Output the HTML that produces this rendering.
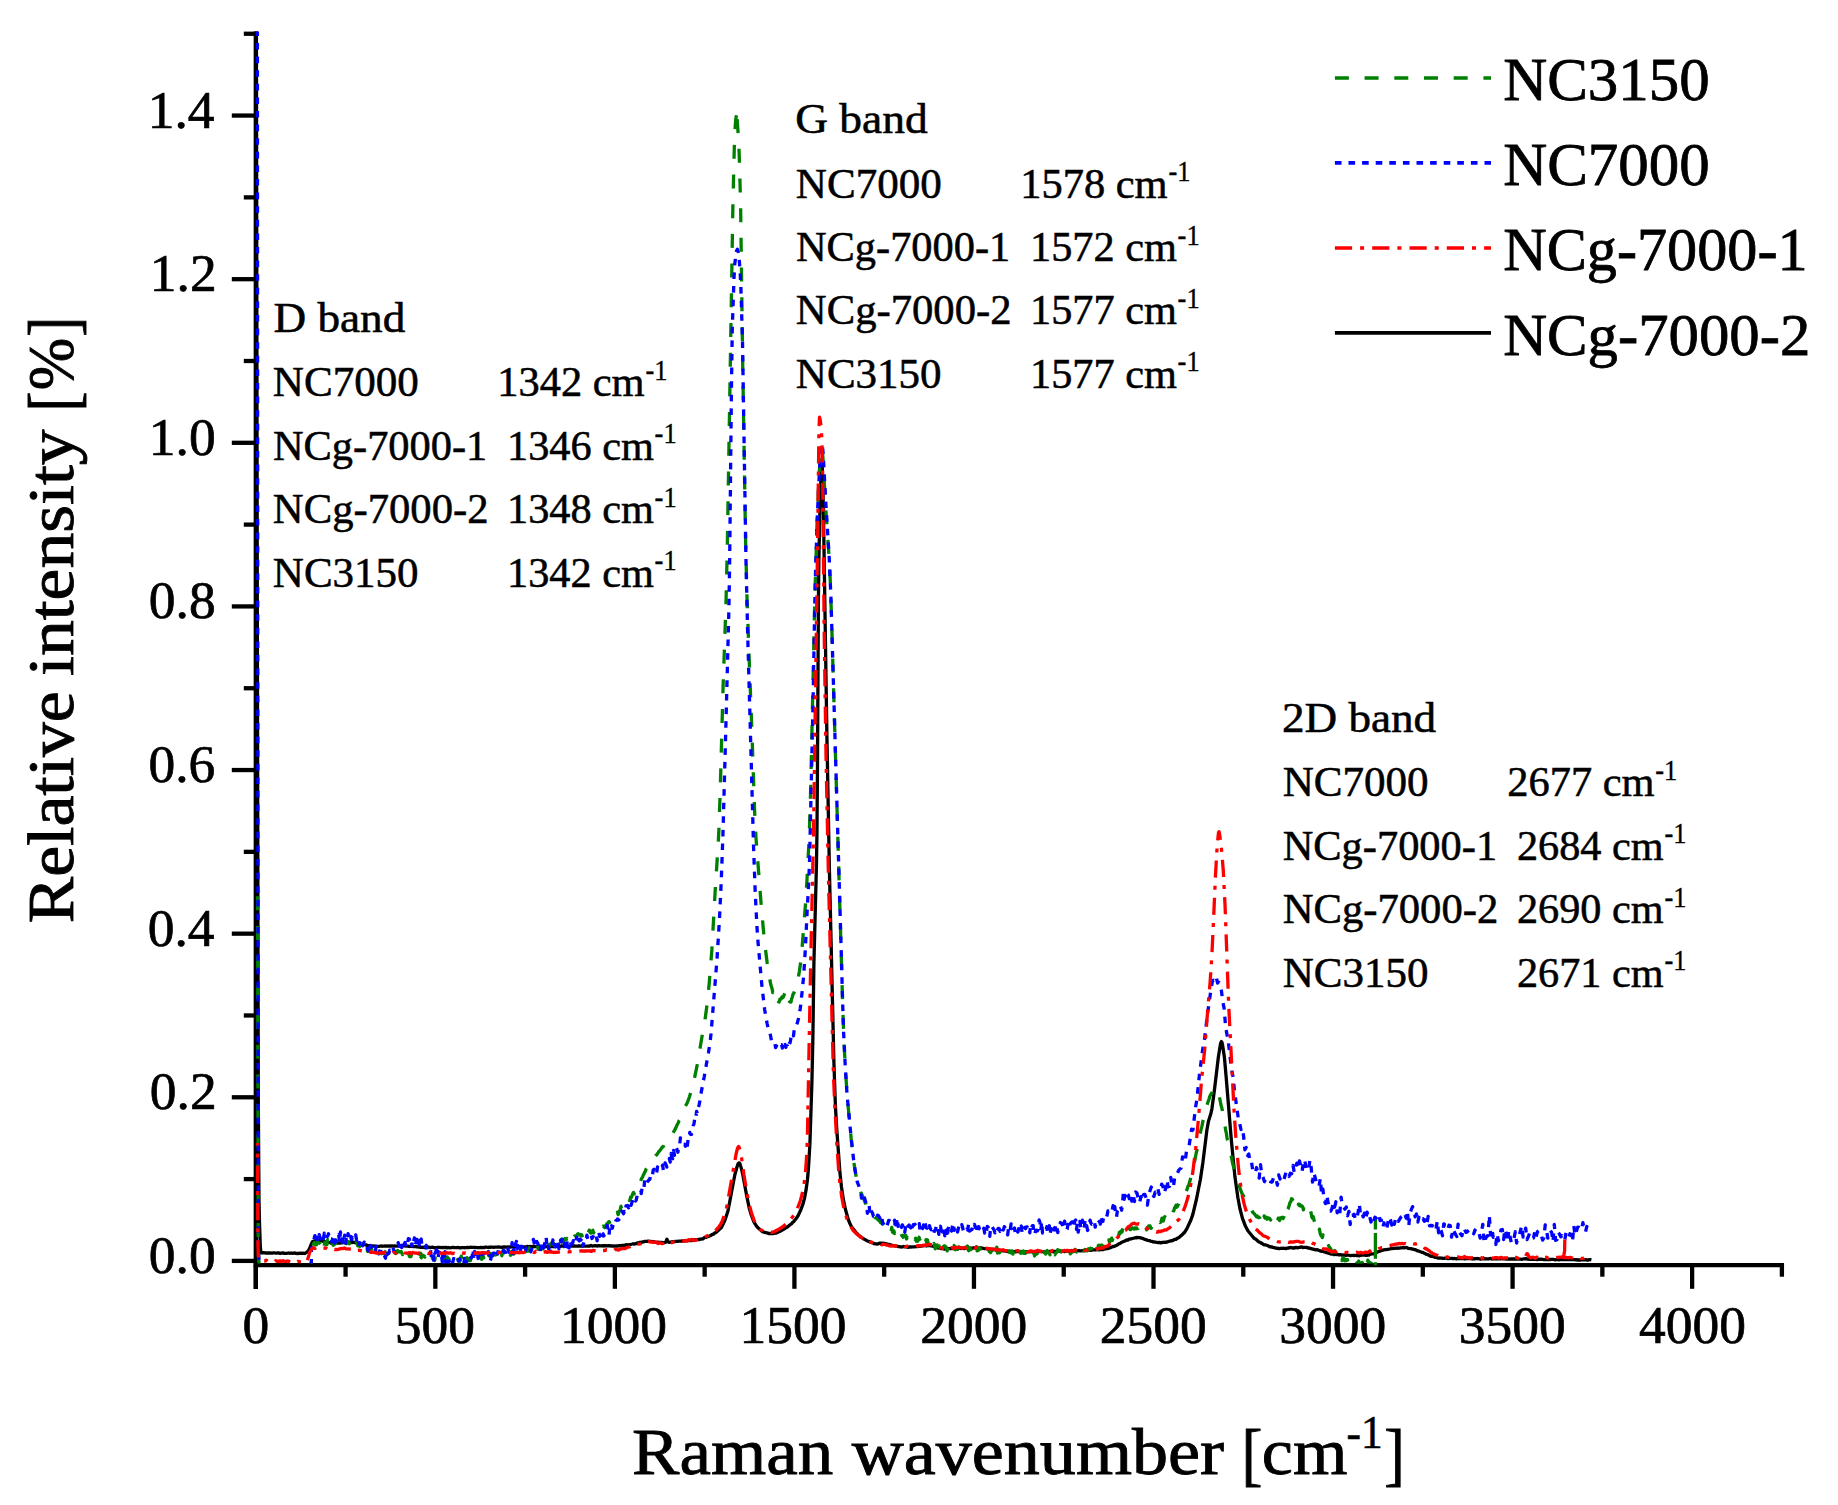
<!DOCTYPE html>
<html lang="en"><head><meta charset="utf-8"><title>Raman spectra</title>
<style>
html,body{margin:0;padding:0;background:#fff;}
body{width:1838px;height:1505px;overflow:hidden;}
svg{display:block;}
text{font-family:"Liberation Serif", serif;fill:#000;stroke:#000;}
</style></head><body>
<svg width="1838" height="1505" viewBox="0 0 1838 1505">
<rect width="1838" height="1505" fill="#fff"/>
<defs><clipPath id="plot"><rect x="250" y="31.60" width="1560" height="1231.80"/></clipPath></defs>
<g stroke="#000" stroke-width="4.30" fill="none">
<line x1="255.80" y1="31.60" x2="255.80" y2="1289.00"/>
<line x1="253.65" y1="1265.20" x2="1784.04" y2="1265.20"/>
<line x1="231.80" y1="1260.90" x2="255.80" y2="1260.90"/>
<line x1="243.80" y1="1179.09" x2="255.80" y2="1179.09"/>
<line x1="231.80" y1="1097.28" x2="255.80" y2="1097.28"/>
<line x1="243.80" y1="1015.47" x2="255.80" y2="1015.47"/>
<line x1="231.80" y1="933.66" x2="255.80" y2="933.66"/>
<line x1="243.80" y1="851.85" x2="255.80" y2="851.85"/>
<line x1="231.80" y1="770.04" x2="255.80" y2="770.04"/>
<line x1="243.80" y1="688.23" x2="255.80" y2="688.23"/>
<line x1="231.80" y1="606.42" x2="255.80" y2="606.42"/>
<line x1="243.80" y1="524.61" x2="255.80" y2="524.61"/>
<line x1="231.80" y1="442.80" x2="255.80" y2="442.80"/>
<line x1="243.80" y1="360.99" x2="255.80" y2="360.99"/>
<line x1="231.80" y1="279.18" x2="255.80" y2="279.18"/>
<line x1="243.80" y1="197.37" x2="255.80" y2="197.37"/>
<line x1="231.80" y1="115.56" x2="255.80" y2="115.56"/>
<line x1="243.80" y1="33.75" x2="255.80" y2="33.75"/>
<line x1="255.80" y1="1265.20" x2="255.80" y2="1288.80"/>
<line x1="345.57" y1="1265.20" x2="345.57" y2="1276.70"/>
<line x1="435.34" y1="1265.20" x2="435.34" y2="1288.80"/>
<line x1="525.11" y1="1265.20" x2="525.11" y2="1276.70"/>
<line x1="614.88" y1="1265.20" x2="614.88" y2="1288.80"/>
<line x1="704.65" y1="1265.20" x2="704.65" y2="1276.70"/>
<line x1="794.42" y1="1265.20" x2="794.42" y2="1288.80"/>
<line x1="884.19" y1="1265.20" x2="884.19" y2="1276.70"/>
<line x1="973.96" y1="1265.20" x2="973.96" y2="1288.80"/>
<line x1="1063.73" y1="1265.20" x2="1063.73" y2="1276.70"/>
<line x1="1153.50" y1="1265.20" x2="1153.50" y2="1288.80"/>
<line x1="1243.27" y1="1265.20" x2="1243.27" y2="1276.70"/>
<line x1="1333.04" y1="1265.20" x2="1333.04" y2="1288.80"/>
<line x1="1422.81" y1="1265.20" x2="1422.81" y2="1276.70"/>
<line x1="1512.58" y1="1265.20" x2="1512.58" y2="1288.80"/>
<line x1="1602.35" y1="1265.20" x2="1602.35" y2="1276.70"/>
<line x1="1692.12" y1="1265.20" x2="1692.12" y2="1288.80"/>
<line x1="1781.89" y1="1265.20" x2="1781.89" y2="1276.70"/>
</g>
<g fill="none" stroke-width="3.3" stroke-linejoin="round" clip-path="url(#plot)">
<path d="M256.4,20.0L257.3,600.0L258.3,1100.0L259.0,1200.0L259.5,1223.0L260.3,1246.0L260.9,1252.9L263.9,1252.7L265.4,1253.0L267.4,1253.0L267.9,1252.8L269.4,1253.1L269.9,1252.9L272.4,1253.2L273.9,1252.7L274.4,1252.9L275.9,1253.1L276.4,1253.0L276.9,1253.1L277.4,1252.8L277.9,1252.9L278.4,1252.8L279.4,1253.3L280.4,1253.3L280.9,1253.2L281.4,1253.2L282.9,1252.8L283.4,1252.9L284.4,1253.4L286.4,1253.4L288.4,1253.0L289.4,1253.1L289.9,1253.3L291.4,1253.0L292.4,1253.3L293.9,1253.0L294.9,1253.0L295.4,1253.3L297.9,1253.5L300.4,1253.2L301.4,1253.5L302.9,1253.1L304.9,1253.5L306.4,1252.5L308.4,1250.7L309.4,1248.9L311.4,1243.8L312.4,1241.9L312.9,1241.3L313.4,1241.3L313.9,1241.1L314.4,1241.1L315.9,1240.4L316.9,1240.5L318.4,1240.2L319.4,1240.3L320.9,1240.7L321.9,1240.9L324.9,1241.9L326.4,1242.0L327.4,1242.3L330.4,1242.7L330.9,1243.0L332.9,1242.7L334.4,1242.9L335.9,1242.7L336.9,1242.8L337.9,1243.2L338.9,1242.9L339.4,1242.9L339.9,1243.1L340.9,1242.8L343.9,1242.7L345.4,1242.3L346.9,1242.6L348.4,1242.5L348.9,1242.6L350.4,1242.3L352.4,1242.5L353.4,1242.1L354.4,1242.4L354.9,1242.7L357.4,1243.0L358.4,1243.3L358.9,1243.6L359.4,1243.6L359.9,1243.9L360.4,1243.8L362.4,1244.0L363.9,1244.7L365.9,1244.9L367.4,1245.4L369.4,1245.6L370.9,1246.1L371.9,1246.1L372.4,1245.9L375.4,1246.2L378.9,1246.4L380.9,1246.0L381.9,1246.1L382.4,1246.3L382.9,1246.1L383.4,1246.2L383.9,1246.1L384.4,1246.2L384.9,1245.9L387.9,1246.2L389.4,1245.9L390.9,1246.2L391.9,1245.9L392.9,1246.1L394.4,1245.9L396.4,1246.1L398.9,1245.9L399.4,1245.6L400.9,1245.7L401.4,1245.5L401.9,1245.5L403.4,1246.0L404.4,1245.8L406.4,1246.2L407.9,1246.1L408.9,1246.4L409.4,1246.5L409.9,1246.3L411.9,1246.3L413.4,1246.6L414.9,1246.6L415.9,1246.5L416.9,1246.9L417.9,1246.8L418.9,1247.2L419.4,1247.2L419.9,1247.0L420.9,1247.3L421.9,1247.1L424.9,1247.5L427.9,1247.2L428.4,1247.3L428.9,1247.2L429.9,1247.3L430.4,1247.6L432.4,1247.2L434.4,1247.8L434.9,1247.7L436.4,1248.0L436.9,1247.5L437.4,1247.4L439.4,1247.4L441.4,1247.7L443.4,1247.5L444.4,1247.7L444.9,1247.5L445.9,1247.4L447.4,1247.9L448.4,1247.5L449.9,1247.8L451.4,1247.7L452.9,1247.2L454.4,1247.7L456.9,1247.7L457.4,1247.4L459.9,1247.9L460.9,1247.8L461.4,1247.6L463.9,1247.6L464.4,1247.8L464.9,1247.6L466.4,1247.7L467.4,1247.4L468.4,1247.6L469.4,1247.5L470.9,1247.2L471.4,1247.4L474.4,1247.3L477.4,1247.6L479.9,1247.5L480.9,1247.4L481.4,1247.7L482.4,1247.6L482.9,1247.4L484.4,1247.6L484.9,1247.3L485.9,1247.0L486.4,1247.2L487.9,1247.3L488.4,1247.5L489.9,1247.1L490.4,1247.3L491.9,1247.0L493.4,1247.4L494.9,1247.1L496.4,1247.2L497.4,1247.0L498.9,1247.2L499.9,1247.0L501.4,1247.3L503.9,1247.0L506.9,1247.1L507.9,1246.9L508.9,1247.1L509.9,1246.9L510.9,1247.0L511.9,1246.8L513.9,1246.9L514.9,1247.1L516.9,1246.5L517.9,1246.8L518.4,1246.9L519.4,1246.6L520.4,1246.6L520.9,1246.8L522.4,1246.7L523.4,1247.1L524.9,1246.8L526.4,1246.7L527.9,1246.5L528.4,1246.8L530.4,1246.5L531.4,1246.7L532.9,1246.4L534.4,1246.7L536.4,1246.6L537.4,1246.4L538.4,1246.6L539.9,1246.3L540.4,1246.6L541.4,1246.6L541.9,1246.3L542.4,1246.6L543.4,1246.8L544.4,1246.7L546.4,1246.5L546.9,1246.6L548.4,1246.4L549.4,1246.6L550.9,1246.3L552.4,1246.7L553.9,1246.4L554.9,1246.6L556.4,1246.4L556.9,1246.4L558.4,1246.2L559.4,1246.5L560.4,1246.4L561.9,1245.8L564.4,1246.4L565.4,1246.3L565.9,1246.4L566.4,1246.3L566.9,1246.3L567.4,1246.1L571.4,1246.2L573.9,1246.1L574.4,1245.9L574.9,1246.1L577.4,1246.2L578.9,1245.8L580.9,1246.2L582.4,1245.8L583.9,1246.0L588.4,1246.1L588.9,1246.0L589.4,1246.1L589.9,1245.9L590.4,1245.8L590.9,1245.5L591.9,1246.0L592.4,1246.1L592.9,1245.8L594.4,1245.9L595.4,1245.6L596.9,1246.0L598.9,1245.7L600.4,1245.9L601.4,1245.8L602.4,1246.0L602.9,1245.6L603.9,1245.7L604.4,1246.0L605.9,1245.7L607.4,1245.9L607.9,1245.7L608.4,1245.8L608.9,1245.7L611.4,1246.0L612.9,1245.9L614.9,1246.1L616.4,1245.9L617.4,1246.2L618.4,1245.9L619.4,1245.6L619.9,1245.8L620.9,1245.6L621.4,1245.3L622.9,1245.5L624.9,1245.3L625.9,1244.7L627.4,1245.0L629.9,1244.6L630.4,1244.6L630.9,1244.3L632.4,1244.0L632.9,1243.8L633.4,1243.9L633.9,1244.2L635.9,1243.6L636.4,1243.6L637.4,1243.0L638.9,1242.8L639.4,1242.5L640.9,1242.4L642.9,1241.8L643.9,1241.8L644.9,1241.3L646.9,1241.3L647.9,1241.2L652.4,1241.7L652.9,1241.5L655.4,1242.0L656.4,1242.3L657.9,1242.2L660.9,1242.6L661.4,1242.4L662.9,1242.7L665.4,1242.4L665.9,1241.8L666.9,1239.2L667.9,1241.7L668.4,1242.2L669.4,1242.4L670.9,1242.0L671.4,1242.0L671.9,1241.8L672.9,1241.6L673.4,1241.8L674.4,1241.7L675.4,1241.3L676.9,1241.4L679.4,1241.2L680.9,1241.2L682.4,1240.9L683.4,1241.2L684.9,1240.8L687.4,1240.7L688.9,1240.4L689.4,1240.3L690.9,1240.7L692.4,1240.3L692.9,1240.4L694.4,1239.7L695.9,1239.9L698.4,1239.5L699.4,1239.6L700.4,1239.1L701.9,1239.0L702.9,1238.8L704.4,1237.7L705.9,1237.4L706.9,1237.0L708.9,1236.2L710.9,1235.4L711.4,1234.9L713.4,1234.1L714.9,1232.9L715.9,1232.6L717.9,1230.8L720.4,1228.4L721.4,1227.5L724.9,1220.2L727.9,1211.2L734.9,1174.5L736.9,1167.2L737.9,1164.3L738.4,1163.3L738.9,1162.8L739.4,1163.0L739.9,1163.6L741.4,1168.6L742.9,1175.1L746.4,1194.3L749.4,1208.8L750.9,1213.9L753.9,1222.0L755.4,1224.4L756.9,1226.7L761.4,1230.9L762.9,1231.9L767.9,1233.1L768.4,1233.5L769.9,1233.5L770.4,1233.7L771.4,1233.4L772.9,1233.5L774.9,1233.2L775.9,1233.2L777.4,1232.5L778.4,1232.2L778.9,1231.7L780.4,1231.1L781.4,1230.5L784.4,1228.8L785.4,1228.1L787.4,1227.0L790.4,1224.5L791.4,1223.8L792.9,1222.2L793.4,1221.9L794.9,1219.9L795.4,1219.6L797.9,1216.0L800.4,1210.8L802.9,1204.2L804.4,1198.6L805.9,1190.9L807.4,1180.0L808.4,1169.0L809.9,1144.0L811.9,1082.3L812.9,1036.7L813.9,963.1L816.4,867.2L816.9,837.3L817.4,780.1L818.4,600.7L818.9,559.1L819.9,510.5L821.4,464.6L821.9,461.1L822.4,470.4L823.4,509.6L826.9,735.7L829.4,869.5L833.9,1062.3L835.4,1105.8L836.9,1131.3L839.9,1172.1L841.4,1186.4L843.4,1199.7L845.4,1209.3L848.4,1219.9L849.9,1223.5L851.9,1227.4L855.9,1232.4L857.9,1234.5L860.4,1236.8L861.4,1237.3L863.4,1238.8L865.9,1240.1L866.4,1240.3L867.4,1241.0L869.4,1241.6L870.9,1242.5L872.9,1243.0L874.4,1243.6L875.4,1243.9L877.9,1244.0L878.4,1243.8L879.4,1243.2L879.9,1243.1L880.4,1243.3L882.4,1243.1L883.9,1243.4L884.4,1243.3L885.9,1243.9L886.9,1243.9L887.4,1244.2L888.9,1244.4L890.4,1244.8L891.4,1245.3L891.9,1245.4L892.4,1245.3L893.9,1245.7L897.9,1246.3L898.4,1246.6L899.9,1246.7L900.4,1246.9L901.9,1247.0L903.4,1246.5L904.4,1246.9L905.4,1246.8L905.9,1246.7L907.4,1247.0L907.9,1247.3L908.9,1247.2L909.4,1246.9L910.9,1247.0L911.9,1246.9L913.9,1246.8L916.4,1246.6L917.4,1246.6L918.4,1246.3L918.9,1246.4L919.4,1246.2L919.9,1246.3L920.4,1246.0L921.4,1246.1L922.4,1245.9L922.9,1245.6L923.4,1245.8L924.4,1245.7L924.9,1245.5L926.4,1246.0L927.4,1245.7L928.9,1245.6L929.4,1245.4L930.4,1245.6L931.4,1246.0L933.9,1246.5L934.4,1246.4L935.9,1246.9L936.9,1247.1L937.9,1247.8L939.9,1248.0L941.4,1248.6L942.4,1248.5L943.9,1249.0L944.9,1249.0L946.4,1248.7L950.4,1248.6L952.4,1248.6L952.9,1248.5L954.4,1248.8L956.4,1248.4L956.9,1248.6L957.9,1248.7L958.4,1248.3L959.4,1248.1L960.9,1248.5L961.4,1248.2L962.4,1248.1L962.9,1248.4L963.9,1248.5L964.4,1248.5L964.9,1248.2L965.4,1248.3L965.9,1248.2L966.4,1248.4L966.9,1248.1L967.9,1247.8L969.4,1248.0L970.9,1248.1L971.4,1248.0L971.9,1248.1L972.9,1248.1L973.4,1247.8L974.4,1247.7L975.9,1248.4L976.4,1248.3L977.4,1247.7L978.4,1248.3L978.9,1248.3L980.4,1247.7L981.4,1247.9L981.9,1248.2L983.4,1248.4L984.4,1248.6L987.9,1248.8L990.9,1249.7L991.9,1249.5L993.4,1249.6L993.9,1249.4L995.4,1250.0L996.9,1249.9L997.9,1250.3L998.9,1250.3L999.9,1250.6L1000.9,1250.4L1002.9,1250.7L1003.4,1250.9L1005.9,1251.2L1006.4,1251.1L1007.4,1251.4L1008.9,1251.5L1009.4,1251.8L1010.4,1251.7L1011.4,1251.5L1013.4,1251.6L1013.9,1251.5L1015.4,1251.9L1015.9,1251.7L1016.9,1251.7L1017.9,1251.5L1019.4,1251.6L1021.4,1251.5L1022.9,1251.8L1024.9,1251.9L1025.4,1251.7L1026.9,1251.8L1027.4,1251.7L1028.4,1251.7L1028.9,1251.9L1030.9,1251.5L1032.9,1251.9L1034.4,1251.7L1035.4,1251.8L1036.4,1251.6L1037.4,1251.7L1038.9,1251.4L1040.4,1251.5L1040.9,1251.7L1041.4,1251.5L1041.9,1251.7L1044.9,1251.8L1045.4,1251.6L1045.9,1251.6L1046.4,1251.5L1046.9,1251.7L1049.9,1251.6L1051.4,1251.1L1051.9,1251.3L1052.4,1251.7L1053.4,1251.8L1053.9,1251.4L1054.9,1251.5L1056.4,1251.4L1056.9,1251.5L1057.9,1251.1L1058.9,1251.1L1060.9,1251.3L1062.9,1251.2L1064.4,1251.6L1065.4,1251.2L1066.4,1251.1L1066.9,1251.2L1068.4,1250.8L1068.9,1250.9L1069.4,1251.3L1069.9,1251.4L1071.4,1250.8L1073.4,1250.8L1075.9,1251.1L1077.4,1250.8L1077.9,1250.8L1078.4,1250.7L1079.4,1250.7L1079.9,1250.9L1080.9,1250.9L1084.4,1250.3L1085.9,1250.6L1086.9,1250.6L1089.4,1249.9L1090.9,1250.3L1092.9,1249.7L1093.4,1249.9L1095.9,1249.9L1097.9,1249.5L1098.9,1249.8L1101.4,1249.3L1103.4,1249.5L1104.9,1248.8L1106.4,1248.8L1106.9,1248.6L1107.9,1248.5L1109.4,1247.9L1109.9,1247.9L1111.4,1247.3L1112.9,1246.4L1113.9,1246.5L1117.4,1244.9L1118.9,1243.7L1119.4,1243.7L1120.4,1243.3L1120.9,1242.7L1123.4,1241.6L1124.9,1240.9L1125.9,1240.5L1126.4,1240.1L1127.4,1239.8L1127.9,1240.0L1128.4,1239.5L1129.4,1239.1L1129.9,1239.2L1134.4,1238.0L1134.9,1237.8L1135.9,1237.7L1136.4,1237.8L1136.9,1237.5L1139.9,1237.6L1141.4,1238.2L1142.4,1238.3L1144.9,1239.4L1146.4,1239.8L1147.4,1240.3L1149.4,1240.6L1150.9,1241.3L1151.9,1241.5L1152.4,1241.5L1152.9,1241.9L1154.9,1242.0L1157.9,1242.7L1159.4,1242.4L1160.9,1242.9L1162.4,1242.4L1165.9,1242.2L1166.4,1242.3L1168.4,1241.4L1168.9,1241.4L1169.9,1241.2L1170.4,1240.9L1171.4,1240.7L1171.9,1240.8L1172.9,1240.5L1173.4,1240.0L1174.4,1239.5L1175.9,1239.3L1177.4,1238.2L1177.9,1238.2L1178.9,1237.6L1181.9,1234.9L1183.4,1233.5L1183.9,1232.8L1184.4,1232.6L1186.9,1228.6L1190.9,1220.0L1192.9,1214.1L1196.4,1199.5L1200.4,1179.2L1202.9,1162.4L1206.9,1130.0L1208.4,1121.6L1210.9,1113.5L1211.9,1108.8L1214.4,1090.2L1218.4,1056.8L1220.4,1044.4L1220.9,1042.5L1221.4,1041.6L1221.9,1042.2L1222.4,1043.9L1224.4,1057.2L1226.4,1080.0L1231.4,1140.9L1234.9,1176.6L1237.9,1197.8L1239.9,1208.5L1242.4,1218.1L1245.4,1226.1L1247.9,1230.8L1253.4,1237.5L1254.4,1238.5L1255.9,1239.2L1258.9,1242.0L1260.4,1242.5L1263.4,1244.4L1263.9,1244.8L1264.9,1244.9L1265.4,1244.8L1267.9,1245.7L1269.4,1246.7L1269.9,1246.8L1270.4,1246.6L1271.9,1247.1L1272.4,1247.0L1272.9,1247.4L1273.9,1247.6L1274.4,1247.6L1275.9,1248.2L1278.9,1248.5L1279.4,1248.7L1280.9,1248.2L1281.9,1248.4L1282.9,1248.4L1283.4,1248.2L1284.4,1248.3L1286.4,1248.5L1286.9,1248.2L1287.9,1248.0L1288.9,1248.1L1289.9,1247.6L1290.9,1247.5L1292.4,1248.0L1293.4,1248.0L1296.4,1247.5L1297.9,1247.8L1298.4,1247.5L1299.4,1247.3L1299.9,1247.4L1301.4,1246.8L1301.9,1246.9L1302.9,1247.5L1304.4,1247.3L1305.4,1247.4L1306.4,1247.4L1307.9,1248.0L1308.4,1247.9L1312.9,1249.1L1315.9,1249.9L1317.4,1249.7L1320.4,1251.0L1322.4,1251.3L1323.9,1251.8L1324.9,1252.0L1325.9,1252.3L1326.4,1252.6L1327.9,1252.9L1329.4,1253.6L1330.4,1253.7L1331.4,1254.1L1333.4,1254.2L1333.9,1254.5L1334.9,1254.5L1335.4,1254.3L1336.4,1254.5L1337.4,1254.4L1338.4,1254.8L1340.4,1254.7L1341.4,1255.0L1342.9,1255.1L1344.4,1254.9L1344.9,1255.2L1345.4,1255.2L1345.9,1255.4L1347.4,1255.0L1350.4,1255.6L1352.4,1255.3L1353.4,1255.5L1354.9,1255.3L1355.9,1255.4L1356.9,1255.7L1357.9,1255.6L1359.4,1255.8L1360.4,1255.3L1362.4,1255.2L1364.4,1254.9L1365.9,1255.3L1366.9,1255.3L1367.9,1255.0L1368.9,1255.1L1370.4,1254.2L1370.9,1254.1L1371.4,1253.8L1373.4,1253.9L1375.9,1252.6L1377.4,1252.2L1378.4,1251.5L1379.9,1251.1L1380.9,1250.8L1381.4,1250.4L1382.4,1250.1L1382.9,1250.3L1383.9,1249.9L1385.9,1249.5L1386.4,1249.6L1388.9,1249.2L1389.9,1249.0L1391.4,1248.5L1394.4,1248.4L1394.9,1248.4L1396.4,1248.0L1397.4,1248.3L1398.4,1248.0L1399.4,1248.2L1400.4,1247.8L1401.9,1247.9L1402.4,1247.7L1403.4,1247.5L1404.4,1247.9L1406.4,1247.5L1407.4,1247.9L1407.9,1248.3L1410.9,1248.6L1412.4,1249.1L1413.4,1249.2L1414.4,1249.6L1415.4,1249.7L1417.4,1250.8L1418.4,1250.9L1419.9,1251.6L1420.4,1251.6L1421.9,1252.4L1422.4,1252.3L1422.9,1252.4L1424.4,1253.3L1424.9,1253.4L1425.9,1254.1L1427.4,1254.5L1429.4,1255.5L1430.4,1256.1L1431.4,1256.3L1432.4,1256.5L1433.9,1256.8L1435.4,1257.4L1435.9,1257.2L1436.9,1257.5L1437.9,1258.1L1438.9,1258.1L1439.4,1258.0L1441.4,1258.2L1442.4,1258.2L1442.9,1258.4L1443.4,1258.3L1443.9,1258.4L1444.4,1258.2L1444.9,1258.2L1445.4,1258.1L1447.4,1258.3L1447.9,1258.6L1450.9,1258.3L1451.9,1258.3L1452.9,1258.6L1454.9,1258.5L1456.4,1258.8L1457.9,1258.4L1458.9,1258.5L1461.9,1258.3L1462.9,1258.6L1463.4,1258.4L1464.9,1258.8L1465.9,1258.6L1467.4,1258.6L1467.9,1258.5L1469.4,1258.6L1470.4,1258.3L1471.9,1258.9L1472.4,1259.0L1473.9,1258.6L1474.9,1258.8L1476.4,1258.5L1477.4,1258.7L1477.9,1258.5L1480.4,1259.1L1483.9,1258.7L1486.4,1258.8L1488.9,1258.9L1489.4,1258.6L1490.4,1258.5L1491.4,1258.8L1491.9,1259.0L1492.4,1259.0L1493.4,1258.7L1494.4,1258.8L1494.9,1258.7L1496.4,1258.9L1497.4,1258.6L1497.9,1258.8L1499.4,1258.7L1500.4,1258.8L1501.9,1258.5L1502.9,1258.8L1505.9,1258.8L1506.4,1259.1L1507.4,1259.1L1507.9,1258.8L1509.9,1259.2L1511.4,1258.9L1514.9,1259.0L1515.4,1259.1L1515.9,1259.0L1516.9,1258.9L1518.4,1259.2L1520.9,1259.2L1521.4,1259.3L1522.4,1259.3L1523.9,1258.8L1524.4,1258.9L1525.9,1258.7L1527.4,1259.1L1528.4,1259.2L1529.4,1259.4L1530.9,1259.1L1534.4,1259.3L1535.9,1259.4L1536.9,1259.5L1539.4,1259.1L1540.4,1259.3L1541.4,1259.1L1543.4,1259.5L1543.9,1259.7L1544.9,1259.5L1546.4,1259.5L1549.4,1259.4L1550.4,1259.5L1551.4,1259.4L1552.9,1259.4L1553.4,1259.3L1555.4,1259.8L1557.4,1259.2L1557.9,1259.5L1558.4,1259.5L1558.9,1259.8L1560.9,1259.4L1562.4,1259.5L1562.9,1259.7L1563.4,1259.5L1563.9,1259.7L1564.9,1259.5L1566.9,1259.6L1569.9,1259.6L1571.9,1259.4L1573.4,1259.7L1574.4,1259.6L1575.4,1259.8L1576.4,1259.6L1577.9,1260.1L1578.9,1259.8L1579.4,1259.8L1579.9,1260.0L1581.4,1259.8L1581.9,1259.9L1586.4,1259.7L1587.4,1260.1L1588.4,1260.0L1588.9,1259.7L1589.9,1259.6L1591.4,1259.9" stroke="#000000"/>
<path d="M736.4,115.2L735.7,120.0L735.0,129.5L734.3,147.8L732.9,204.7L727.3,548.0L725.9,606.3L723.1,686.2L720.3,787.8L718.9,830.1L718.2,844.1L715.4,886.9L711.9,949.2L709.1,984.6L707.0,1005.0L704.9,1020.6L703.5,1027.8L697.2,1064.9L694.4,1078.5L693.0,1083.8L692.3,1087.4L689.5,1096.7L687.4,1102.5L685.3,1106.4L684.6,1109.5L683.9,1110.4L683.2,1112.1L682.5,1113.1L681.1,1116.3L679.7,1119.9L679.0,1120.8L678.3,1122.8L676.9,1125.3L675.5,1128.6L672.7,1133.4L672.0,1134.1L671.3,1135.8L670.6,1136.6L669.9,1137.0L668.5,1140.0L667.8,1140.5L667.1,1142.0L664.3,1144.7L663.6,1146.1L662.9,1146.8L662.2,1147.2L660.8,1149.3L659.4,1151.2L658.7,1151.7L658.0,1153.0L656.6,1154.9L655.9,1155.4L653.8,1157.7L652.4,1160.5L651.7,1161.3L651.0,1161.6L650.3,1162.4L649.6,1164.4L648.9,1164.7L647.5,1167.4L646.1,1169.1L645.4,1171.3L644.7,1172.1L644.0,1174.0L643.3,1175.0L642.6,1177.1L641.9,1178.0L640.5,1181.1L639.8,1185.4L639.1,1184.0L638.4,1185.5L637.7,1185.8L637.0,1189.1L635.6,1192.3L634.9,1192.7L634.2,1193.8L633.5,1192.5L632.8,1193.6L631.4,1197.5L630.7,1197.0L630.0,1199.6L629.3,1200.5L628.6,1198.7L627.9,1203.1L627.2,1203.3L626.5,1204.6L624.4,1205.1L623.0,1208.7L622.3,1208.5L621.6,1208.6L620.9,1206.3L620.2,1210.1L619.5,1211.0L618.1,1214.6L617.4,1212.2L616.0,1217.9L615.3,1217.4L614.6,1217.2L613.9,1217.9L613.2,1219.7L611.8,1220.6L611.1,1221.6L610.4,1224.1L609.0,1221.6L608.3,1222.2L607.6,1223.6L606.9,1223.6L606.2,1225.7L605.5,1225.9L604.8,1227.7L604.1,1226.2L603.4,1226.5L602.7,1226.2L601.3,1227.3L600.6,1225.9L599.9,1228.0L599.2,1228.9L598.5,1227.7L597.8,1228.5L597.1,1230.9L596.4,1230.0L595.7,1229.7L595.0,1229.9L594.3,1231.2L593.6,1233.0L592.9,1230.3L592.2,1231.3L591.5,1231.4L590.8,1233.1L590.1,1232.5L589.4,1230.2L588.7,1231.4L588.0,1233.3L587.3,1231.7L586.6,1233.4L585.9,1233.8L585.2,1235.7L584.5,1234.7L583.8,1231.4L583.1,1234.8L582.4,1235.6L581.7,1234.8L581.0,1236.0L580.3,1234.5L579.6,1235.0L578.9,1234.8L578.2,1233.7L577.5,1234.0L576.8,1236.0L576.1,1235.9L575.4,1236.0L574.7,1235.9L574.0,1236.7L573.3,1236.8L572.6,1239.1L571.9,1236.5L571.2,1237.1L570.5,1238.3L569.8,1238.1L569.1,1236.1L568.4,1239.5L567.0,1238.4L566.3,1239.5L564.9,1238.6L562.8,1242.1L561.4,1239.2L560.7,1241.1L560.0,1241.7L559.3,1240.1L558.6,1240.8L557.9,1243.1L557.2,1240.2L556.5,1244.3L555.8,1242.6L555.1,1242.7L554.4,1245.4L553.7,1243.4L553.0,1244.3L552.3,1242.1L550.2,1244.8L549.5,1244.4L548.8,1245.1L548.1,1247.5L547.4,1246.4L546.7,1246.6L546.0,1246.1L545.3,1250.6L544.6,1245.4L543.2,1246.6L542.5,1248.9L541.8,1247.2L541.1,1246.8L540.4,1248.1L539.7,1247.2L539.0,1246.7L538.3,1249.4L537.6,1247.1L536.9,1249.4L536.2,1250.4L535.5,1249.7L534.8,1250.0L534.1,1249.2L533.4,1249.5L532.7,1248.1L532.0,1249.4L531.3,1250.0L530.6,1249.5L529.9,1251.1L529.2,1247.9L528.5,1251.2L527.8,1249.0L527.1,1251.1L526.4,1249.5L525.7,1251.7L525.0,1251.9L524.3,1250.3L523.6,1250.1L522.9,1249.6L522.2,1250.2L520.8,1252.2L520.1,1251.8L519.4,1251.6L518.7,1252.1L518.0,1251.8L517.3,1250.8L516.6,1251.5L515.9,1251.7L515.2,1254.4L514.5,1252.6L513.8,1254.1L513.1,1251.7L512.4,1253.1L511.7,1251.3L511.0,1254.9L510.3,1255.2L509.6,1252.0L508.9,1255.0L508.2,1251.9L507.5,1253.4L506.8,1252.1L506.1,1253.9L504.0,1250.5L503.3,1253.2L502.6,1251.0L501.9,1255.8L501.2,1253.2L500.5,1256.0L499.8,1252.8L499.1,1256.3L498.4,1254.4L497.7,1254.1L497.0,1252.5L496.3,1254.4L495.6,1255.0L494.9,1254.8L492.8,1254.8L492.1,1255.8L490.7,1253.6L490.0,1255.2L489.3,1256.0L488.6,1254.3L487.9,1257.5L487.2,1255.4L486.5,1255.5L485.8,1252.2L485.1,1257.2L484.4,1256.6L483.7,1257.8L483.0,1255.7L481.6,1259.3L480.9,1256.7L480.2,1257.8L479.5,1255.4L478.8,1257.8L478.1,1256.1L477.4,1257.3L476.7,1259.3L476.0,1256.1L475.3,1257.6L474.6,1256.8L473.9,1257.7L473.2,1258.1L471.8,1257.5L471.1,1257.5L470.4,1260.6L469.7,1259.8L469.0,1260.5L468.3,1258.6L467.6,1259.7L466.9,1257.6L466.2,1260.9L465.5,1260.3L464.8,1260.0L464.1,1259.2L463.4,1258.1L462.7,1263.3L462.0,1260.6L461.3,1256.1L460.6,1257.9L459.9,1260.9L459.2,1262.3L458.5,1260.5L457.8,1259.4L457.1,1260.0L456.4,1262.0L455.7,1263.0L455.0,1261.7L454.3,1258.1L453.6,1261.4L452.9,1260.6L452.2,1260.5L451.5,1259.8L450.1,1260.3L449.4,1259.7L448.7,1258.7L448.0,1258.3L447.3,1257.0L446.6,1259.7L445.9,1260.0L445.2,1261.0L444.5,1259.2L443.8,1259.2L443.1,1259.9L442.4,1259.1L441.7,1260.8L441.0,1259.5L440.3,1258.6L439.6,1259.7L438.9,1258.6L438.2,1258.3L437.5,1260.1L436.8,1255.7L436.1,1256.2L435.4,1256.4L434.7,1260.6L434.0,1256.2L432.6,1258.7L431.9,1256.2L431.2,1256.4L430.5,1256.8L429.8,1255.3L429.1,1256.9L428.4,1255.4L427.7,1257.7L427.0,1254.8L425.6,1254.8L424.9,1257.1L424.2,1255.9L422.8,1255.3L421.4,1257.8L420.7,1253.3L420.0,1256.3L419.3,1256.0L418.6,1256.2L417.9,1255.8L417.2,1256.8L416.5,1255.4L415.8,1253.2L415.1,1256.5L414.4,1254.2L413.7,1253.3L413.0,1253.9L412.3,1254.1L411.6,1254.1L410.9,1256.5L410.2,1254.2L409.5,1256.6L408.8,1253.3L408.1,1253.9L407.4,1250.4L406.7,1254.1L406.0,1252.9L405.3,1254.4L404.6,1253.9L403.9,1251.3L403.2,1252.0L402.5,1254.6L401.8,1252.5L401.1,1251.6L400.4,1252.2L399.7,1252.2L399.0,1251.5L398.3,1251.5L397.6,1250.5L396.9,1252.7L396.2,1252.2L395.5,1253.6L394.8,1251.6L394.1,1252.4L392.7,1250.8L392.0,1253.3L391.3,1252.5L390.6,1252.9L389.9,1254.7L389.2,1252.3L388.5,1252.1L387.8,1254.0L387.1,1253.7L386.4,1254.2L385.7,1253.3L385.0,1251.7L384.3,1253.8L383.6,1253.1L382.2,1253.1L381.5,1253.7L380.8,1251.5L380.1,1253.8L379.4,1250.7L378.0,1253.3L377.3,1253.5L375.9,1253.1L375.2,1252.6L374.5,1251.1L373.8,1252.0L373.1,1250.4L372.4,1250.8L371.7,1249.1L371.0,1249.5L370.3,1248.9L369.6,1251.3L368.9,1248.9L368.2,1249.8L367.5,1251.3L366.8,1246.5L366.1,1248.8L364.7,1247.4L364.0,1248.9L363.3,1246.7L362.6,1246.1L361.9,1247.2L361.2,1243.8L360.5,1243.5L359.8,1246.5L358.4,1244.2L357.7,1245.8L357.0,1242.5L356.3,1242.1L355.6,1244.1L353.5,1244.5L352.1,1241.4L351.4,1244.3L350.7,1246.2L350.0,1242.4L349.3,1243.8L348.6,1241.7L347.9,1241.9L347.2,1241.8L346.5,1243.8L345.8,1241.2L345.1,1242.8L344.4,1240.2L343.7,1242.7L343.0,1243.1L341.6,1241.6L340.9,1240.0L340.2,1240.4L338.8,1243.3L338.1,1242.0L336.7,1241.6L336.0,1240.3L335.3,1244.0L334.6,1241.7L333.9,1242.6L333.2,1245.3L332.5,1244.0L331.8,1241.6L330.4,1245.6L329.7,1244.9L329.0,1241.0L328.3,1243.6L327.6,1239.7L326.9,1244.8L326.2,1242.4L325.5,1243.4L324.8,1242.3L324.1,1246.5L323.4,1242.2L322.7,1243.4L322.0,1245.8L321.3,1241.9L320.6,1244.4L319.9,1243.6L318.5,1242.7L317.8,1243.3L317.1,1242.3L316.4,1244.8L315.7,1244.7L314.3,1242.5L313.6,1243.3L311.5,1251.0L311.3,1264.0L310.5,1268.0L259.5,1268.0L258.6,1258.0L258.2,1240.0L257.6,890.0" stroke="#008000" stroke-dasharray="14 15.7"/>
<path d="M736.4,115.2L737.1,118.9L738.5,138.2L739.2,154.6L740.6,204.3L742.7,363.7L745.5,535.6L746.9,594.6L749.0,654.0L751.8,728.5L754.6,811.1L756.0,838.1L761.6,910.1L764.4,940.7L767.2,963.1L768.6,972.8L770.7,984.2L772.1,988.7L772.8,992.7L773.5,992.1L774.2,994.0L774.9,994.9L775.6,998.1L776.3,1000.2L777.0,999.9L777.7,997.8L778.4,1001.8L779.1,1002.0L779.8,999.3L780.5,999.5L781.2,999.0L781.9,996.9L782.6,997.8L783.3,997.2L784.7,993.4L786.1,1001.2L786.8,1001.7L787.5,1000.1L788.2,999.4L788.9,1003.3L789.6,1001.9L790.3,1002.1L791.0,1002.0L791.7,998.7L792.4,996.7L793.1,993.8L793.8,993.3L794.5,990.9L795.2,989.5L795.9,986.9L796.6,985.3L798.0,979.0L799.4,971.3L800.8,961.5L801.5,955.3L804.3,919.1L805.7,901.9L807.1,877.6L809.2,837.1L810.6,792.1L814.8,599.6L816.9,527.1L818.3,493.9L819.7,465.0L820.4,454.3L821.1,447.8L821.8,446.9L822.5,452.1L823.2,461.7L825.3,501.6L828.8,553.2L830.2,579.3L831.6,620.2L842.8,1009.5L844.2,1045.6L845.6,1072.9L847.7,1101.8L851.2,1138.9L854.7,1168.7L856.8,1180.1L859.6,1189.0L861.0,1192.8L861.7,1194.0L862.4,1196.1L863.1,1197.0L863.8,1199.3L864.5,1200.7L865.2,1202.8L865.9,1204.0L866.6,1206.4L867.3,1207.2L868.0,1208.6L868.7,1209.1L870.1,1212.4L870.8,1212.9L871.5,1214.3L872.2,1214.5L872.9,1215.6L873.6,1215.8L874.3,1216.8L875.7,1218.1L876.4,1218.1L877.1,1218.4L877.8,1219.6L878.5,1220.0L879.2,1220.8L879.9,1220.8L880.6,1222.8L882.0,1222.2L882.7,1224.0L883.4,1226.7L884.1,1226.7L885.5,1228.1L886.2,1228.0L886.9,1230.4L888.3,1227.7L889.0,1227.9L889.7,1229.3L890.4,1229.8L891.1,1231.4L891.8,1227.4L892.5,1232.0L893.2,1232.7L893.9,1230.9L894.6,1233.5L895.3,1231.3L896.0,1232.3L896.7,1232.2L897.4,1235.2L898.1,1235.0L898.8,1235.3L899.5,1232.7L900.2,1234.6L900.9,1233.3L901.6,1235.2L902.3,1236.0L903.0,1237.3L903.7,1235.7L904.4,1236.4L905.1,1236.2L905.8,1235.3L906.5,1239.0L907.2,1237.6L907.9,1239.2L908.6,1238.7L909.3,1236.2L910.0,1237.3L910.7,1239.2L911.4,1239.6L912.1,1239.6L912.8,1239.0L913.5,1240.3L914.2,1238.1L914.9,1239.2L915.6,1238.2L916.3,1241.2L917.0,1240.6L917.7,1241.2L918.4,1240.1L919.1,1237.3L919.8,1239.7L920.5,1241.1L921.2,1241.1L921.9,1242.4L922.6,1242.8L923.3,1240.8L924.0,1242.8L924.7,1239.7L925.4,1243.0L926.1,1239.6L926.8,1243.2L927.5,1239.8L928.2,1243.6L928.9,1245.3L929.6,1243.2L930.3,1244.6L931.0,1245.4L931.7,1240.7L932.4,1241.9L933.1,1244.6L933.8,1243.4L934.5,1244.5L935.2,1248.8L935.9,1247.9L937.3,1244.9L938.0,1246.6L938.7,1246.5L939.4,1245.9L940.1,1248.4L940.8,1243.8L941.5,1248.4L942.2,1245.9L942.9,1248.3L943.6,1246.4L944.3,1245.9L945.0,1245.9L945.7,1247.2L946.4,1247.4L947.1,1250.9L948.5,1247.0L949.2,1245.5L949.9,1247.3L950.6,1248.0L951.3,1245.1L952.7,1249.1L953.4,1246.9L954.1,1245.4L954.8,1248.6L955.5,1249.7L956.2,1247.4L956.9,1247.9L957.6,1249.3L958.3,1248.5L959.0,1246.9L960.4,1247.8L961.1,1248.0L961.8,1249.6L962.5,1246.7L963.2,1248.6L963.9,1247.9L964.6,1245.4L965.3,1249.2L966.0,1248.5L966.7,1246.6L967.4,1246.0L968.1,1249.7L968.8,1250.7L969.5,1248.6L970.2,1248.3L970.9,1249.6L971.6,1247.8L972.3,1248.0L973.0,1250.0L973.7,1247.3L974.4,1250.4L975.1,1249.4L975.8,1250.8L976.5,1246.6L977.2,1250.9L977.9,1249.1L978.6,1250.1L979.3,1248.3L980.0,1248.1L980.7,1251.1L981.4,1250.2L982.8,1250.7L983.5,1250.7L984.2,1247.8L984.9,1249.6L985.6,1249.7L986.3,1252.9L987.0,1252.1L987.7,1249.2L988.4,1248.5L989.1,1251.5L989.8,1251.4L990.5,1252.6L991.2,1249.3L991.9,1253.1L992.6,1251.2L993.3,1252.8L994.0,1251.5L994.7,1250.7L995.4,1250.3L996.1,1253.2L996.8,1247.2L997.5,1253.0L998.2,1252.6L998.9,1250.8L999.6,1252.8L1001.0,1250.2L1002.4,1252.9L1003.1,1252.2L1003.8,1251.2L1004.5,1253.2L1005.2,1253.3L1005.9,1254.0L1006.6,1252.7L1007.3,1254.5L1008.0,1251.6L1008.7,1252.0L1009.4,1250.7L1010.1,1252.5L1010.8,1252.8L1011.5,1252.7L1012.2,1251.0L1012.9,1254.1L1013.6,1250.5L1014.3,1251.5L1015.0,1248.8L1015.7,1254.2L1016.4,1253.9L1017.1,1252.5L1017.8,1253.2L1018.5,1251.1L1019.9,1251.5L1020.6,1253.2L1021.3,1252.3L1022.0,1253.0L1022.7,1251.4L1023.4,1251.0L1024.1,1253.4L1024.8,1253.2L1025.5,1253.4L1026.2,1251.9L1026.9,1253.1L1027.6,1250.7L1028.3,1251.3L1029.0,1253.2L1029.7,1251.5L1030.4,1251.1L1031.1,1251.5L1031.8,1255.0L1032.5,1252.2L1033.2,1253.1L1033.9,1252.5L1034.6,1256.0L1035.3,1252.6L1036.0,1254.1L1036.7,1254.0L1038.1,1252.7L1038.8,1250.6L1040.2,1255.6L1040.9,1253.4L1041.6,1255.4L1042.3,1253.6L1043.0,1253.9L1043.7,1252.0L1044.4,1252.4L1045.8,1254.1L1046.5,1251.2L1047.2,1250.6L1047.9,1252.4L1048.6,1252.4L1049.3,1253.2L1050.0,1254.8L1050.7,1251.7L1051.4,1255.0L1052.1,1253.2L1052.8,1252.5L1053.5,1250.2L1054.2,1254.4L1054.9,1254.8L1055.6,1253.0L1056.3,1253.0L1057.0,1251.8L1057.7,1249.7L1058.4,1251.2L1059.1,1250.3L1059.8,1250.4L1060.5,1251.1L1061.2,1251.4L1062.6,1253.9L1063.3,1251.8L1064.0,1253.2L1064.7,1251.6L1065.4,1251.6L1066.1,1252.5L1066.8,1251.1L1067.5,1252.3L1068.2,1251.3L1068.9,1250.7L1069.6,1251.0L1070.3,1253.9L1071.0,1252.1L1071.7,1251.2L1072.4,1252.0L1073.1,1250.7L1073.8,1251.1L1074.5,1251.2L1075.2,1249.4L1075.9,1251.4L1076.6,1252.1L1077.3,1251.9L1078.0,1251.3L1078.7,1252.8L1079.4,1250.2L1080.1,1252.7L1080.8,1252.4L1081.5,1251.3L1082.2,1252.9L1082.9,1249.8L1083.6,1251.0L1084.3,1250.4L1085.0,1249.4L1085.7,1249.8L1086.4,1250.7L1087.1,1250.5L1087.8,1250.6L1088.5,1248.8L1089.2,1249.3L1089.9,1249.2L1090.6,1248.3L1091.3,1248.9L1092.0,1246.0L1092.7,1247.1L1093.4,1247.7L1094.1,1247.7L1094.8,1248.9L1095.5,1247.1L1096.2,1249.9L1096.9,1245.5L1097.6,1249.6L1098.3,1245.7L1099.0,1245.2L1099.7,1245.5L1100.4,1245.4L1101.1,1245.5L1101.8,1245.0L1102.5,1245.9L1103.2,1246.0L1103.9,1243.2L1104.6,1245.9L1105.3,1244.2L1106.0,1243.5L1106.7,1244.2L1107.4,1242.4L1108.1,1243.9L1108.8,1239.8L1109.5,1242.4L1110.2,1239.6L1110.9,1240.5L1111.6,1238.3L1112.3,1240.5L1113.0,1238.2L1113.7,1238.1L1114.4,1235.2L1115.1,1234.2L1115.8,1235.9L1116.5,1237.1L1117.9,1232.2L1118.6,1235.9L1119.3,1232.5L1120.0,1233.7L1120.7,1231.3L1121.4,1231.0L1122.1,1231.9L1122.8,1227.7L1123.5,1229.5L1124.2,1229.9L1124.9,1229.7L1125.6,1227.9L1126.3,1231.2L1127.0,1229.2L1127.7,1229.0L1128.4,1226.5L1129.1,1228.7L1129.8,1229.4L1130.5,1229.6L1131.2,1229.1L1131.9,1228.1L1132.6,1227.9L1134.0,1229.1L1134.7,1227.9L1135.4,1227.9L1136.1,1228.7L1136.8,1227.9L1137.5,1228.5L1138.2,1228.4L1138.9,1227.0L1139.6,1230.1L1140.3,1229.1L1141.0,1227.0L1141.7,1227.0L1142.4,1227.6L1143.1,1227.4L1143.8,1226.9L1144.5,1228.4L1145.9,1226.8L1146.6,1229.9L1147.3,1227.4L1148.0,1228.1L1148.7,1225.9L1150.1,1226.0L1150.8,1228.3L1151.5,1227.8L1152.2,1226.1L1152.9,1225.6L1153.6,1225.9L1154.3,1223.9L1155.0,1224.1L1155.7,1225.2L1156.4,1222.3L1157.1,1223.9L1157.8,1222.5L1158.5,1222.5L1159.2,1221.7L1159.9,1222.6L1160.6,1222.2L1161.3,1221.4L1162.0,1218.2L1162.7,1220.1L1163.4,1221.0L1164.1,1217.8L1164.8,1216.7L1165.5,1217.9L1166.2,1218.8L1166.9,1215.6L1167.6,1217.1L1168.3,1215.7L1169.7,1215.3L1171.1,1212.6L1171.8,1212.7L1172.5,1213.6L1173.2,1211.5L1173.9,1210.7L1174.6,1207.7L1175.3,1207.3L1176.0,1205.3L1176.7,1207.2L1177.4,1206.4L1178.1,1204.6L1178.8,1204.1L1179.5,1201.5L1180.2,1200.9L1180.9,1200.7L1181.6,1198.8L1182.3,1198.3L1183.0,1197.5L1183.7,1194.8L1184.4,1193.6L1185.1,1193.6L1185.8,1191.8L1187.2,1189.1L1187.9,1186.4L1188.6,1185.7L1190.7,1178.3L1194.9,1160.1L1196.3,1152.5L1197.0,1150.2L1197.7,1145.5L1199.1,1139.7L1199.8,1134.9L1201.2,1128.8L1201.9,1126.4L1203.3,1119.2L1204.0,1116.4L1204.7,1112.4L1205.4,1109.6L1206.1,1108.1L1208.2,1101.3L1208.9,1099.7L1209.6,1096.8L1211.0,1094.1L1211.7,1093.2L1212.4,1091.4L1213.8,1088.6L1215.2,1088.4L1215.9,1088.6L1216.6,1089.1L1217.3,1091.8L1218.0,1092.2L1218.7,1095.8L1219.4,1097.4L1220.1,1100.3L1220.8,1104.3L1222.2,1109.5L1223.6,1118.6L1224.3,1121.1L1225.7,1130.4L1226.4,1133.4L1227.1,1138.7L1227.8,1140.3L1229.2,1148.3L1231.3,1156.7L1232.7,1163.8L1234.1,1168.6L1234.8,1172.6L1236.9,1179.4L1237.6,1181.3L1238.3,1184.3L1239.7,1187.3L1241.8,1193.1L1243.9,1196.6L1245.3,1199.9L1246.0,1201.4L1247.4,1203.4L1248.8,1206.2L1250.2,1208.1L1251.6,1210.1L1253.0,1212.6L1253.7,1213.1L1256.5,1216.8L1257.2,1215.9L1257.9,1217.3L1258.6,1216.9L1259.3,1217.7L1260.0,1218.1L1260.7,1220.2L1261.4,1217.4L1262.1,1219.5L1262.8,1215.3L1263.5,1218.7L1264.2,1215.9L1264.9,1218.0L1266.3,1217.3L1267.0,1219.2L1267.7,1217.9L1268.4,1217.8L1269.8,1218.7L1270.5,1220.0L1271.2,1218.7L1271.9,1218.1L1272.6,1217.1L1273.3,1219.9L1274.0,1219.5L1274.7,1219.9L1275.4,1218.2L1276.1,1220.5L1276.8,1219.6L1277.5,1221.7L1278.2,1218.2L1278.9,1219.6L1279.6,1220.5L1280.3,1217.9L1281.0,1218.1L1281.7,1217.3L1282.4,1217.4L1283.1,1218.5L1283.8,1217.2L1284.5,1214.6L1285.2,1217.9L1285.9,1212.3L1286.6,1213.1L1287.3,1210.0L1288.0,1209.0L1289.4,1204.9L1290.1,1202.2L1290.8,1201.8L1291.5,1198.8L1292.2,1199.1L1293.6,1201.5L1294.3,1206.6L1295.0,1205.2L1295.7,1206.3L1296.4,1208.8L1297.1,1208.0L1297.8,1208.1L1298.5,1204.1L1299.2,1205.4L1299.9,1204.6L1300.6,1206.0L1301.3,1205.6L1302.0,1205.9L1302.7,1206.8L1303.4,1209.8L1304.1,1204.9L1304.8,1206.9L1305.5,1207.8L1306.2,1207.3L1306.9,1207.0L1307.6,1210.3L1308.3,1211.3L1309.0,1211.9L1309.7,1211.4L1310.4,1210.5L1311.1,1213.0L1311.8,1217.0L1312.5,1218.1L1313.2,1216.6L1314.6,1222.4L1315.3,1224.0L1316.0,1222.7L1316.7,1225.2L1317.4,1226.9L1318.1,1227.1L1318.8,1232.3L1319.5,1229.2L1320.2,1233.4L1320.9,1235.5L1321.6,1236.0L1322.3,1237.5L1323.0,1234.9L1323.7,1239.0L1325.1,1241.7L1325.8,1240.7L1326.5,1243.2L1327.2,1243.5L1327.9,1247.3L1328.6,1245.6L1329.3,1247.2L1330.7,1248.7L1331.4,1251.9L1332.1,1252.2L1332.8,1251.5L1333.5,1251.3L1334.2,1251.8L1334.9,1250.6L1335.6,1253.7L1336.3,1254.6L1337.0,1254.6L1337.7,1254.2L1338.4,1257.5L1339.1,1257.4L1339.8,1257.2L1340.5,1259.5L1341.2,1258.2L1341.9,1260.6L1342.6,1258.4L1343.3,1259.2L1344.0,1258.6L1344.7,1260.8L1345.4,1259.3L1346.1,1260.7L1346.8,1260.5L1347.5,1259.6L1348.2,1263.6L1349.6,1260.9L1350.3,1262.4L1351.0,1262.0L1351.7,1261.1L1352.4,1264.2L1353.1,1263.1L1354.5,1262.9L1355.9,1263.5L1356.6,1263.0L1358.0,1263.0L1358.7,1261.0L1360.1,1264.7L1360.8,1265.2L1362.2,1262.4L1362.9,1264.8L1363.6,1262.5L1365.0,1261.9L1365.7,1261.1L1366.4,1266.2L1367.1,1263.9L1367.8,1260.2L1368.5,1262.9L1369.2,1261.8L1369.9,1265.1L1370.6,1263.2L1371.3,1263.1L1372.0,1265.0L1372.7,1266.2L1373.4,1263.2L1374.1,1264.1" stroke="#008000" stroke-dasharray="14 15.7" stroke-dashoffset="25.70"/>
<path d="M1375.4,1258.8V1233.1M1375.4,1229.5V1218.1" stroke="#008000"/>
<path d="M257.4,20.0L257.8,700.0L258.3,1240.0L258.8,1258.0L259.6,1268.0L310.5,1268.0L311.3,1264.0L311.5,1248.1L312.4,1248.0L313.2,1241.8L314.9,1235.6L315.8,1242.4L316.6,1237.1L317.5,1241.5L318.3,1241.6L319.2,1234.6L320.0,1237.4L320.9,1238.7L321.7,1234.8L322.6,1237.7L323.4,1238.9L324.3,1233.1L325.1,1237.1L326.0,1238.9L326.8,1236.6L327.7,1236.2L328.5,1233.8L329.4,1238.0L330.2,1238.5L331.1,1237.6L331.9,1242.0L332.8,1237.9L333.6,1236.6L334.5,1243.0L335.3,1239.9L336.2,1241.0L337.0,1241.6L337.9,1236.1L338.7,1234.8L339.6,1242.5L340.4,1231.9L341.3,1236.0L342.1,1242.3L343.0,1235.5L343.8,1239.7L344.7,1235.1L345.5,1244.6L346.4,1237.3L347.2,1240.0L348.1,1233.6L348.9,1239.8L349.8,1239.8L350.6,1236.4L351.5,1239.9L352.3,1237.4L353.2,1239.3L354.0,1236.7L354.9,1237.0L355.7,1234.9L356.6,1240.0L357.4,1238.3L358.3,1237.0L359.1,1244.5L360.0,1240.3L360.8,1240.7L361.7,1239.9L362.5,1245.8L363.4,1244.4L364.2,1242.1L365.1,1244.3L365.9,1247.2L366.8,1246.2L367.6,1249.7L368.5,1249.6L369.3,1253.4L370.2,1245.3L371.0,1247.4L371.9,1247.1L372.7,1247.5L373.6,1248.8L374.4,1248.0L375.3,1252.1L376.1,1246.2L377.0,1250.4L377.8,1252.4L378.7,1253.8L379.5,1251.0L380.4,1252.1L381.2,1251.5L382.1,1253.0L382.9,1251.1L383.8,1253.9L385.5,1258.2L386.3,1251.0L387.2,1254.6L388.0,1252.9L388.9,1253.2L389.7,1250.2L390.6,1251.3L391.4,1251.9L393.1,1247.6L394.0,1251.8L394.8,1247.9L395.7,1246.1L396.5,1246.1L397.4,1244.7L398.2,1242.6L399.1,1246.2L399.9,1244.0L400.8,1241.0L401.6,1247.6L403.3,1240.3L404.2,1244.4L405.0,1242.5L405.9,1245.1L406.7,1240.9L407.6,1242.8L408.4,1238.6L409.3,1238.8L410.1,1242.5L411.0,1240.1L411.8,1246.0L412.7,1239.3L413.5,1242.0L414.4,1237.8L415.2,1246.1L416.9,1237.5L417.8,1242.9L418.6,1240.9L419.5,1247.1L420.3,1240.2L421.2,1239.1L422.0,1246.1L422.9,1246.3L423.7,1244.7L425.4,1246.7L426.3,1245.3L427.1,1249.7L428.0,1248.0L428.8,1249.9L429.7,1249.7L430.5,1249.3L431.4,1257.7L432.2,1253.4L433.1,1255.0L433.9,1261.5L434.8,1253.9L435.6,1252.3L436.5,1249.8L437.3,1251.0L438.2,1257.5L439.0,1251.9L439.9,1250.4L440.7,1256.9L441.6,1256.9L442.4,1262.5L443.3,1253.6L444.1,1261.3L445.0,1251.7L445.8,1262.7L447.5,1257.0L448.4,1263.8L449.2,1261.1L450.1,1262.7L450.9,1261.3L451.8,1264.8L452.6,1263.4L453.5,1258.7L455.2,1258.9L456.0,1263.6L456.9,1263.0L457.7,1261.8L458.6,1260.2L459.4,1258.9L460.3,1261.5L461.1,1262.7L462.0,1262.3L462.8,1264.6L463.7,1264.7L464.5,1258.3L465.4,1266.7L467.1,1259.7L467.9,1259.7L468.8,1260.1L469.6,1256.7L470.5,1256.0L471.3,1258.0L472.2,1256.5L473.0,1249.0L473.9,1259.1L474.7,1251.4L475.6,1257.8L476.4,1255.6L477.3,1254.5L478.1,1258.5L479.0,1253.6L479.8,1253.0L480.7,1256.6L481.5,1256.2L482.4,1253.3L483.2,1253.0L484.1,1252.9L484.9,1255.9L485.8,1256.0L486.6,1257.0L488.3,1251.6L490.0,1261.8L490.9,1258.6L491.7,1250.7L492.6,1255.8L493.4,1253.1L494.3,1253.0L495.1,1252.4L496.8,1248.3L497.7,1254.0L498.5,1249.5L499.4,1250.7L500.2,1251.0L501.1,1252.3L501.9,1250.6L502.8,1251.2L503.6,1250.2L504.5,1252.0L505.3,1252.1L506.2,1255.2L507.9,1248.7L508.7,1251.9L509.6,1252.7L510.4,1248.1L511.3,1248.0L512.1,1242.7L513.0,1253.6L513.8,1249.4L514.7,1252.7L515.5,1244.0L516.4,1241.4L517.2,1249.1L518.1,1245.5L518.9,1248.3L519.8,1245.3L520.6,1249.9L521.5,1246.3L522.3,1246.7L523.2,1248.5L524.0,1245.6L524.9,1245.7L525.7,1250.4L526.6,1246.3L528.3,1247.9L529.1,1246.7L530.0,1247.8L530.8,1251.8L531.7,1249.3L532.5,1241.8L533.4,1239.4L534.2,1243.2L535.1,1238.7L535.9,1237.7L536.8,1242.5L537.6,1242.7L538.5,1246.0L539.3,1246.7L540.2,1251.7L541.0,1243.1L541.9,1243.3L543.6,1248.2L544.4,1244.1L545.3,1242.1L546.1,1236.7L547.0,1247.1L547.8,1243.8L548.7,1249.0L549.5,1249.7L550.4,1249.9L551.2,1245.5L552.1,1246.7L552.9,1240.0L553.8,1245.2L554.6,1242.8L555.5,1246.9L556.3,1242.1L557.2,1242.9L558.0,1241.0L558.9,1248.8L559.7,1243.7L560.6,1240.3L561.4,1242.0L562.3,1239.2L563.1,1246.5L564.0,1246.5L564.8,1243.2L565.7,1243.5L566.5,1238.2L567.4,1247.0L568.2,1242.0L569.1,1248.1L569.9,1240.1L570.8,1243.0L571.6,1244.1L572.5,1243.6L573.3,1240.7L574.2,1244.0L575.0,1241.8L575.9,1240.5L576.7,1237.1L577.6,1243.7L578.4,1239.8L579.3,1240.9L580.1,1239.1L581.0,1240.1L581.8,1237.7L582.7,1246.2L583.5,1243.8L584.4,1240.2L585.2,1238.9L586.1,1239.9L586.9,1235.2L587.8,1239.4L588.6,1237.2L590.3,1235.2L591.2,1235.1L592.0,1238.5L592.9,1237.0L593.7,1234.5L594.6,1238.0L596.3,1236.3L597.1,1240.8L598.0,1235.6L598.8,1232.3L599.7,1236.5L600.5,1233.0L601.4,1238.1L602.2,1236.9L603.1,1233.9L603.9,1235.7L604.8,1232.5L605.6,1231.7L606.5,1227.1L607.3,1225.5L608.2,1229.7L609.0,1235.4L609.9,1225.9L610.7,1228.4L611.6,1225.8L612.4,1228.3L613.3,1223.3L614.1,1224.2L615.0,1224.6L615.8,1220.7L616.7,1220.5L617.5,1219.1L618.4,1220.1L620.1,1218.4L620.9,1216.4L621.8,1211.2L622.6,1212.0L623.5,1213.7L624.3,1211.5L625.2,1213.0L626.0,1205.9L626.9,1206.1L627.7,1205.4L628.6,1207.8L629.4,1204.3L630.3,1202.6L631.1,1205.4L632.8,1199.4L633.7,1202.8L634.5,1200.3L635.4,1201.0L636.2,1200.2L637.1,1195.7L637.9,1195.5L638.8,1194.6L639.6,1195.5L640.5,1191.9L641.3,1193.5L642.2,1187.2L643.0,1187.1L643.9,1189.2L644.7,1179.8L645.6,1178.6L646.4,1182.8L647.3,1181.7L648.1,1181.1L649.0,1179.7L649.8,1179.4L650.7,1174.2L652.4,1175.9L653.2,1170.1L654.1,1169.3L654.9,1170.7L655.8,1174.7L656.6,1173.4L657.5,1166.9L658.3,1168.5L659.2,1168.1L660.0,1169.4L660.9,1169.3L661.7,1168.3L662.6,1165.2L663.4,1170.4L664.3,1169.7L665.1,1163.0L666.0,1164.7L666.8,1167.1L667.7,1163.7L668.5,1162.6L669.4,1158.4L670.2,1162.1L671.1,1153.4L671.9,1157.6L672.8,1158.7L673.6,1150.4L674.5,1155.3L675.3,1153.0L676.2,1147.9L677.0,1149.4L677.9,1152.2L678.7,1146.2L679.6,1145.4L680.4,1137.8L682.1,1143.3L683.0,1143.2L683.8,1144.3L684.7,1144.2L685.5,1146.3L686.4,1141.6L687.2,1146.9L688.1,1139.5L688.9,1140.0L689.8,1132.4L690.6,1134.5L691.5,1134.3L692.3,1132.2L693.2,1125.6L694.0,1123.9L694.9,1117.3L695.7,1118.6L696.6,1111.3L697.4,1113.6L698.3,1107.7L699.1,1104.9L700.0,1100.4L700.8,1094.6L702.5,1085.7L703.4,1080.5L704.2,1077.1L705.1,1071.4L708.5,1052.6L710.2,1041.3L711.0,1033.9L717.0,959.2L719.5,918.5L721.2,882.2L722.9,835.8L725.5,740.4L728.9,609.1L729.7,558.4L731.4,391.6L732.3,327.6L734.0,278.1L734.8,263.6L736.5,251.1L737.4,249.3L738.2,252.3L739.1,258.1L739.9,268.2L740.8,284.9L742.5,341.4L745.9,556.4L747.6,631.2L751.0,753.6L753.5,845.3L755.2,892.1L756.9,926.0L757.8,939.6L762.0,987.0L764.6,1009.3L767.1,1023.5L768.8,1030.9L769.7,1032.8L770.5,1035.2L771.4,1040.5L772.2,1041.0L773.1,1042.1L773.9,1044.1L774.8,1043.2L775.6,1047.6L776.5,1046.0L778.2,1048.5L779.9,1045.5L780.7,1045.4L781.6,1044.8L782.4,1048.0L783.3,1041.4L784.1,1044.8L785.0,1044.5L785.8,1047.3L786.7,1046.0L787.5,1045.9L788.4,1048.4L789.2,1043.6L790.1,1042.8L790.9,1038.3L792.6,1033.0L793.5,1035.9L794.3,1029.0L795.2,1028.2L796.0,1028.0L798.6,1018.2L800.3,1008.3L802.0,992.9L803.7,975.4L805.4,948.1L807.1,911.7L808.8,881.0L809.6,859.1L813.0,705.2L814.7,607.3L815.6,570.3L817.3,516.7L819.8,463.9L820.7,451.5L821.5,444.1L822.4,445.2L823.2,454.5L825.8,502.8L829.2,557.4L830.9,596.8L841.1,947.4L842.8,1007.6L843.6,1032.4L845.3,1066.9L847.0,1093.9L851.3,1139.7L853.8,1161.4L856.4,1178.2L857.2,1181.7L858.9,1186.2L859.8,1189.0L860.6,1190.5L861.5,1198.2L862.3,1193.8L863.2,1193.5L866.6,1205.0L867.4,1213.3L868.3,1207.6L869.1,1204.6L870.0,1215.0L870.8,1210.8L871.7,1211.7L872.5,1213.0L873.4,1216.3L874.2,1216.5L875.1,1218.1L875.9,1216.3L876.8,1218.0L877.6,1215.2L878.5,1215.7L879.3,1217.3L880.2,1218.1L881.0,1214.8L881.9,1216.5L882.7,1223.8L883.6,1223.7L884.4,1225.3L885.3,1224.0L886.1,1223.4L887.0,1226.0L888.7,1220.4L889.5,1220.6L890.4,1222.5L891.2,1223.0L892.1,1221.5L892.9,1221.1L893.8,1222.2L894.6,1220.3L895.5,1229.4L896.3,1224.7L897.2,1217.7L898.0,1226.4L898.9,1221.8L899.7,1223.8L900.6,1224.6L901.4,1227.4L902.3,1224.9L903.1,1226.0L904.0,1225.0L904.8,1232.3L905.7,1225.6L906.5,1223.3L907.4,1222.2L908.2,1226.2L909.1,1225.0L909.9,1226.9L910.8,1227.8L911.6,1223.3L912.5,1226.9L913.3,1224.7L914.2,1224.9L915.0,1224.3L915.9,1226.4L916.7,1225.1L917.6,1225.2L918.4,1226.3L919.3,1223.6L920.1,1231.3L921.0,1229.3L921.8,1226.5L922.7,1228.5L923.5,1225.0L924.4,1228.0L925.2,1223.4L926.1,1227.7L926.9,1228.3L927.8,1226.9L928.6,1230.1L929.5,1225.7L930.3,1228.5L931.2,1229.8L932.0,1229.7L932.9,1228.2L933.7,1233.1L934.6,1230.6L935.4,1230.2L936.3,1226.3L937.1,1228.6L938.0,1226.9L938.8,1234.4L939.7,1229.6L940.5,1226.3L941.4,1231.0L942.2,1231.7L943.1,1226.9L943.9,1229.1L944.8,1235.8L945.6,1228.7L946.5,1229.7L947.3,1237.7L948.2,1228.6L949.0,1225.2L949.9,1225.9L950.7,1229.1L951.6,1231.0L952.4,1226.2L953.3,1222.8L954.1,1230.4L955.0,1228.1L956.7,1226.2L957.5,1232.0L959.2,1225.0L960.1,1225.9L960.9,1227.5L961.8,1224.6L962.6,1227.3L963.5,1232.1L964.3,1231.3L965.2,1231.7L966.0,1231.7L966.9,1229.3L967.7,1230.0L968.6,1223.8L969.4,1231.1L970.3,1230.7L971.1,1229.6L972.0,1229.6L972.8,1225.8L973.7,1227.6L974.5,1224.4L975.4,1227.6L976.2,1228.3L977.1,1227.2L977.9,1232.5L978.8,1226.7L979.6,1230.1L980.5,1229.8L981.3,1228.7L982.2,1230.9L983.0,1230.4L983.9,1228.2L984.7,1233.2L985.6,1229.0L986.4,1231.2L987.3,1226.5L988.1,1226.9L989.0,1230.0L989.8,1236.3L990.7,1226.0L991.5,1226.2L993.2,1228.5L994.1,1230.0L994.9,1232.8L995.8,1229.3L996.6,1231.6L998.3,1228.3L999.2,1228.5L1000.0,1231.4L1000.9,1230.5L1001.7,1233.8L1002.6,1230.6L1003.4,1229.7L1004.3,1226.7L1005.1,1227.8L1006.0,1231.1L1006.8,1231.0L1007.7,1234.8L1008.5,1228.2L1009.4,1231.9L1010.2,1229.8L1011.1,1224.0L1011.9,1226.7L1012.8,1230.7L1013.6,1228.9L1014.5,1228.0L1015.3,1233.2L1016.2,1229.3L1017.9,1232.1L1018.7,1228.6L1019.6,1231.7L1020.4,1226.9L1021.3,1226.1L1022.1,1233.0L1023.0,1233.5L1023.8,1231.8L1024.7,1227.5L1025.5,1228.7L1026.4,1226.9L1027.2,1226.9L1028.1,1229.9L1028.9,1228.2L1029.8,1232.8L1030.6,1224.9L1031.5,1227.9L1032.3,1225.9L1033.2,1225.6L1034.0,1234.7L1034.9,1233.8L1035.7,1230.4L1037.4,1230.9L1038.3,1229.2L1039.1,1220.0L1040.0,1222.5L1040.8,1230.6L1041.7,1221.5L1042.5,1233.0L1044.2,1229.7L1045.1,1229.8L1045.9,1230.7L1046.8,1226.8L1047.6,1233.9L1048.5,1227.7L1049.3,1225.7L1050.2,1233.7L1051.0,1228.7L1051.9,1229.2L1053.6,1234.5L1054.4,1227.9L1055.3,1228.2L1056.1,1223.8L1057.8,1232.6L1058.7,1225.4L1059.5,1224.9L1060.4,1222.5L1061.2,1223.6L1062.1,1223.4L1062.9,1227.3L1063.8,1228.0L1064.6,1221.1L1065.5,1228.2L1066.3,1230.7L1067.2,1229.3L1068.0,1224.5L1068.9,1229.0L1069.7,1225.0L1070.6,1223.2L1071.4,1222.2L1072.3,1221.9L1074.0,1227.8L1074.8,1220.7L1075.7,1220.0L1076.5,1229.3L1077.4,1222.9L1078.2,1232.2L1079.9,1221.3L1080.8,1228.2L1081.6,1228.4L1082.5,1220.2L1084.2,1229.1L1085.0,1220.5L1085.9,1226.2L1086.7,1225.8L1087.6,1230.5L1088.4,1228.5L1089.3,1223.3L1090.1,1220.2L1091.0,1223.2L1091.8,1224.4L1092.7,1223.9L1094.4,1220.8L1095.2,1227.2L1096.1,1222.1L1096.9,1220.7L1097.8,1223.0L1098.6,1222.3L1099.5,1221.2L1100.3,1224.1L1101.2,1216.9L1102.0,1219.9L1102.9,1221.4L1103.7,1216.4L1105.4,1218.4L1106.3,1217.4L1107.1,1215.2L1108.0,1210.9L1108.8,1211.2L1109.7,1213.3L1110.5,1211.7L1111.4,1211.1L1112.2,1209.8L1113.1,1205.7L1113.9,1212.1L1114.8,1206.7L1115.6,1214.1L1116.5,1217.3L1117.3,1211.3L1118.2,1210.1L1119.0,1206.6L1119.9,1205.3L1120.7,1206.6L1121.6,1210.2L1122.4,1205.0L1123.3,1192.9L1124.1,1199.3L1125.0,1195.4L1125.8,1199.2L1127.5,1194.3L1128.4,1195.2L1129.2,1198.7L1130.5,1194.5L1131.8,1201.2L1133.1,1193.7L1134.4,1201.6L1135.7,1192.0L1137.0,1193.1L1138.3,1199.3L1139.6,1202.7L1140.9,1196.6L1142.2,1200.7L1143.5,1194.7L1144.8,1194.4L1146.1,1197.9L1147.4,1205.1L1148.7,1196.0L1150.0,1190.7L1151.3,1187.0L1152.6,1194.7L1153.9,1196.4L1155.2,1192.1L1156.5,1192.7L1157.8,1188.1L1159.1,1194.3L1160.4,1191.1L1161.7,1184.1L1163.0,1186.7L1164.3,1193.1L1165.6,1188.5L1166.9,1180.1L1168.2,1186.9L1169.5,1186.2L1170.8,1177.4L1172.1,1186.3L1173.4,1186.8L1174.7,1177.5L1176.0,1174.0L1177.3,1173.9L1178.6,1170.4L1179.9,1169.0L1181.2,1167.9L1182.5,1156.8L1183.8,1157.6L1185.1,1161.9L1186.4,1151.6L1187.7,1149.3L1189.0,1146.6L1191.6,1129.2L1192.9,1130.0L1195.5,1107.4L1196.8,1100.0L1199.4,1075.0L1202.0,1054.3L1203.3,1045.2L1204.6,1038.6L1207.2,1016.3L1209.8,998.0L1211.1,988.7L1212.4,981.1L1213.7,980.1L1215.0,981.4L1216.3,977.5L1217.6,983.0L1218.9,982.4L1220.2,984.5L1221.5,991.3L1222.8,1001.8L1224.1,1008.2L1225.4,1024.0L1226.7,1033.2L1228.0,1039.0L1230.6,1061.4L1231.9,1070.7L1233.2,1077.5L1234.5,1091.1L1238.4,1119.2L1239.7,1123.9L1241.0,1129.5L1242.3,1127.5L1243.6,1136.0L1244.9,1149.8L1246.2,1147.4L1247.5,1155.6L1248.8,1154.0L1250.1,1162.1L1251.4,1161.5L1252.7,1169.9L1254.0,1169.9L1255.3,1172.9L1256.6,1167.5L1257.9,1173.3L1259.2,1178.1L1260.5,1164.6L1261.8,1174.6L1263.1,1177.4L1264.4,1181.6L1265.7,1181.9L1267.0,1183.0L1268.3,1182.8L1269.6,1185.0L1270.9,1182.0L1272.2,1182.0L1273.5,1177.8L1274.8,1180.6L1276.1,1179.6L1277.4,1185.2L1278.7,1174.9L1280.0,1179.1L1281.3,1176.4L1282.6,1176.9L1283.9,1179.8L1285.2,1175.0L1286.5,1171.2L1287.8,1174.1L1289.1,1176.4L1290.4,1173.2L1291.7,1173.7L1293.0,1165.4L1294.3,1172.6L1295.6,1166.6L1296.9,1163.1L1298.2,1167.8L1299.5,1160.8L1302.1,1171.4L1303.4,1161.5L1304.7,1159.6L1306.0,1168.1L1307.3,1166.7L1308.6,1169.5L1309.9,1160.1L1311.2,1167.7L1312.5,1182.0L1313.8,1172.9L1315.1,1177.2L1316.4,1182.4L1317.7,1185.6L1319.0,1186.5L1320.3,1178.5L1321.6,1194.3L1322.9,1189.1L1324.2,1200.4L1325.5,1203.6L1326.8,1195.3L1329.4,1209.7L1330.7,1211.0L1332.0,1208.4L1333.3,1202.7L1334.6,1207.2L1335.9,1201.8L1337.2,1212.9L1338.5,1208.4L1339.8,1213.5L1341.1,1197.1L1342.4,1206.3L1343.7,1207.4L1345.0,1209.2L1346.3,1206.9L1347.6,1215.8L1348.9,1211.4L1350.2,1224.5L1351.5,1215.5L1352.8,1215.3L1354.1,1214.2L1355.4,1219.8L1356.7,1218.6L1358.0,1212.9L1359.3,1203.9L1360.6,1215.3L1361.9,1213.2L1363.2,1216.9L1364.5,1213.1L1365.8,1218.3L1367.1,1212.2L1368.4,1218.5L1369.7,1216.6L1371.0,1222.0L1372.3,1217.5L1373.6,1221.1L1374.9,1217.3L1376.2,1218.0L1377.5,1216.2L1378.8,1213.9L1380.1,1220.7L1381.4,1220.2L1382.7,1227.5L1384.0,1222.9L1385.3,1229.2L1386.6,1229.7L1387.9,1222.6L1389.2,1216.9L1390.5,1220.0L1391.8,1225.0L1393.1,1219.8L1394.4,1224.3L1395.7,1217.4L1397.0,1218.7L1398.3,1221.4L1400.9,1217.1L1402.2,1216.1L1403.5,1217.0L1404.8,1213.7L1406.1,1218.0L1407.4,1210.8L1408.7,1226.2L1410.0,1214.0L1411.3,1209.6L1412.6,1206.6L1413.9,1210.4L1415.2,1216.9L1416.5,1214.0L1417.8,1222.1L1419.1,1216.4L1420.4,1214.3L1421.7,1218.6L1423.0,1218.7L1424.3,1221.3L1425.6,1218.0L1426.9,1223.2L1428.2,1216.4L1429.5,1225.9L1430.8,1225.4L1432.1,1226.0L1433.4,1223.7L1434.7,1227.5L1436.0,1229.0L1437.3,1220.9L1438.6,1232.9L1439.9,1228.1L1441.2,1231.0L1442.5,1235.7L1443.8,1223.8L1445.1,1224.9L1446.4,1225.1L1447.7,1229.6L1449.0,1225.1L1450.3,1225.8L1451.6,1237.2L1452.9,1228.7L1455.5,1234.4L1456.8,1236.5L1458.1,1224.1L1459.4,1232.2L1462.0,1235.7L1463.3,1228.1L1464.6,1229.4L1465.9,1232.3L1467.2,1231.9L1468.5,1230.5L1469.8,1229.4L1471.1,1231.8L1472.4,1231.3L1473.7,1233.8L1475.0,1230.1L1476.3,1228.6L1477.6,1231.2L1478.9,1232.4L1480.2,1238.1L1481.5,1231.8L1482.8,1224.4L1484.1,1243.3L1485.4,1239.0L1486.7,1236.4L1488.0,1235.7L1489.3,1215.4L1490.6,1234.8L1491.9,1228.7L1493.2,1237.3L1494.5,1237.4L1495.8,1244.5L1497.1,1233.8L1498.4,1240.9L1499.7,1236.2L1501.0,1229.9L1502.3,1229.5L1503.6,1239.6L1504.9,1229.2L1506.2,1233.2L1507.5,1241.9L1508.8,1230.4L1511.4,1243.2L1512.7,1241.5L1514.0,1238.3L1515.3,1231.7L1516.6,1243.0L1517.9,1237.3L1519.2,1235.4L1521.8,1225.8L1523.1,1237.1L1524.4,1233.5L1525.7,1228.1L1527.0,1239.5L1528.3,1236.7L1529.6,1233.0L1530.9,1233.8L1532.2,1238.1L1533.5,1237.9L1534.8,1231.5L1536.1,1237.1L1537.4,1231.7L1538.7,1230.8L1540.0,1234.6L1541.3,1235.2L1542.6,1240.1L1543.9,1237.9L1545.2,1225.0L1546.5,1229.4L1547.8,1238.2L1549.1,1235.9L1550.4,1230.5L1551.7,1232.5L1553.0,1241.8L1554.3,1224.4L1555.6,1240.3L1556.9,1239.7L1558.2,1232.4L1559.5,1234.0L1560.8,1236.9L1562.1,1235.7L1563.4,1237.3L1564.7,1240.7L1566.0,1232.8L1567.3,1235.6L1568.6,1237.7L1569.9,1233.7L1571.2,1235.4L1572.5,1241.6L1573.8,1225.9L1575.1,1235.5L1577.7,1227.1L1579.0,1227.4L1580.3,1228.6L1581.6,1230.0L1582.9,1222.7L1584.2,1228.7L1585.5,1232.0L1586.8,1226.5L1588.1,1228.8L1589.4,1227.8L1590.7,1228.7" stroke="#0000ff" stroke-dasharray="6.6 7" stroke-dashoffset="4.21"/>
<path d="M257.4,1143.0L257.9,1245.0L258.3,1256.0L259.2,1260.0L260.9,1261.1L261.5,1261.3L262.7,1261.2L263.3,1260.9L265.1,1261.0L265.7,1260.4L266.3,1260.2L267.5,1261.3L268.1,1261.4L268.7,1260.9L269.9,1261.3L270.5,1261.3L271.1,1260.9L272.3,1260.6L274.1,1261.7L274.7,1261.5L275.9,1260.7L277.7,1261.6L278.3,1261.6L279.5,1260.8L280.7,1261.0L281.3,1261.7L281.9,1261.2L282.5,1261.1L283.1,1260.7L284.3,1261.4L285.5,1261.6L286.1,1261.3L286.7,1261.3L287.3,1261.0L288.5,1261.1L289.1,1261.4L289.7,1262.1L290.9,1262.0L291.5,1261.5L292.7,1262.1L293.3,1261.8L293.9,1261.9L294.5,1261.6L295.1,1261.9L295.7,1261.8L296.3,1262.0L298.1,1261.3L299.9,1262.1L300.5,1261.8L301.7,1262.0L302.9,1261.8L304.7,1262.4L305.3,1262.0L305.9,1262.3L306.5,1262.1L307.1,1261.3L308.9,1255.1L309.5,1252.6L311.9,1248.7L313.1,1248.0L314.3,1247.9L314.9,1248.4L316.7,1247.4L317.3,1247.4L317.9,1247.7L319.1,1247.5L319.7,1247.0L320.9,1247.1L321.5,1247.6L323.3,1248.3L323.9,1248.3L325.1,1247.8L326.9,1248.7L328.1,1249.5L329.9,1249.4L330.5,1249.3L331.1,1249.4L331.7,1249.2L332.3,1249.6L332.9,1249.1L333.5,1249.3L334.1,1249.2L334.7,1249.6L335.9,1249.3L337.1,1249.6L338.3,1249.4L338.9,1249.0L339.5,1249.0L340.7,1248.6L341.9,1248.3L342.5,1248.7L344.3,1248.0L345.5,1248.6L346.1,1248.9L346.7,1248.8L347.3,1248.9L347.9,1248.8L349.7,1249.2L350.3,1249.0L351.5,1249.1L352.7,1249.6L353.3,1249.5L353.9,1249.8L354.5,1249.6L355.1,1250.3L355.7,1249.9L356.3,1250.0L356.9,1249.7L357.5,1250.3L358.7,1250.2L360.5,1250.7L361.1,1250.6L361.7,1250.8L362.9,1250.6L363.5,1250.6L365.3,1251.6L365.9,1251.8L366.5,1251.7L367.1,1251.9L368.3,1252.0L368.9,1251.6L369.5,1251.6L370.7,1252.3L372.5,1252.2L375.5,1252.9L376.1,1252.9L376.7,1253.1L377.3,1252.9L379.7,1253.1L380.3,1252.8L381.5,1252.6L383.3,1252.8L383.9,1252.5L385.1,1252.7L385.7,1253.2L386.3,1252.9L386.9,1253.1L387.5,1252.3L388.1,1252.5L388.7,1252.4L389.3,1252.9L390.5,1253.0L391.7,1253.4L392.3,1253.3L392.9,1253.0L393.5,1252.4L394.7,1252.6L395.3,1253.0L395.9,1253.1L396.5,1252.7L397.1,1252.9L397.7,1252.9L400.1,1253.6L400.7,1253.1L401.9,1252.8L402.5,1252.9L403.1,1252.6L403.7,1252.4L404.9,1252.9L407.9,1253.1L409.7,1252.6L410.3,1252.9L410.9,1253.6L412.1,1253.0L412.7,1252.4L413.3,1252.8L413.9,1252.8L415.7,1253.1L416.9,1253.2L417.5,1253.5L418.1,1253.2L418.7,1253.3L419.3,1253.0L419.9,1253.3L420.5,1252.9L421.1,1252.9L421.7,1252.8L422.3,1253.0L424.1,1252.6L424.7,1252.7L425.3,1252.6L425.9,1252.8L426.5,1252.7L427.1,1253.2L428.3,1253.5L428.9,1253.4L430.1,1253.0L430.7,1252.5L433.1,1252.6L434.3,1253.4L434.9,1253.6L436.7,1252.9L437.9,1252.8L439.7,1253.2L440.9,1253.0L442.1,1253.4L442.7,1253.4L443.3,1253.0L443.9,1253.0L444.5,1253.5L445.1,1253.6L446.3,1252.6L448.7,1253.2L449.9,1253.0L450.5,1252.6L452.3,1253.7L452.9,1253.3L453.5,1253.4L454.1,1253.2L454.7,1253.5L456.5,1253.1L457.1,1252.7L458.9,1252.7L460.7,1253.2L461.9,1252.6L462.5,1252.8L463.1,1253.2L464.3,1253.4L464.9,1252.8L466.7,1253.1L467.9,1252.8L469.7,1253.4L470.9,1253.1L472.7,1252.6L475.7,1253.5L476.9,1253.2L478.1,1252.6L478.7,1252.9L479.3,1252.8L480.5,1253.0L481.7,1252.8L482.3,1252.5L484.7,1253.0L485.9,1253.0L486.5,1252.8L487.7,1253.0L489.5,1252.4L490.1,1252.4L490.7,1251.9L491.9,1252.1L492.5,1252.8L493.7,1252.8L494.3,1252.6L496.1,1252.4L497.9,1252.8L499.1,1252.6L499.7,1252.4L500.3,1252.5L500.9,1252.4L501.5,1252.6L502.1,1252.2L503.9,1252.6L504.5,1252.2L505.1,1252.1L506.3,1252.4L506.9,1252.3L509.3,1252.6L511.7,1252.4L512.3,1252.7L512.9,1252.4L515.3,1252.8L515.9,1252.7L517.7,1252.7L518.3,1252.5L518.9,1252.8L519.5,1252.5L520.1,1252.7L520.7,1252.2L521.9,1252.5L522.5,1252.5L523.1,1252.7L523.7,1252.3L524.3,1252.3L524.9,1252.1L525.5,1252.1L526.1,1252.4L526.7,1252.4L528.5,1251.5L529.1,1252.0L531.5,1252.1L532.1,1252.3L532.7,1251.9L533.9,1252.4L534.5,1252.5L535.7,1251.3L537.5,1252.5L538.1,1252.1L539.3,1251.8L539.9,1252.2L540.5,1252.3L541.7,1252.0L542.3,1252.0L542.9,1252.3L544.7,1252.0L545.3,1251.6L546.5,1251.9L547.1,1252.4L547.7,1252.2L548.3,1251.7L550.1,1252.1L551.3,1251.9L553.1,1252.2L553.7,1252.5L554.3,1252.3L554.9,1252.4L555.5,1252.2L556.7,1252.4L557.9,1252.1L558.5,1252.2L560.3,1251.9L561.5,1252.1L562.7,1252.0L563.3,1252.3L563.9,1252.2L565.1,1251.5L566.3,1251.7L568.1,1251.9L569.3,1251.9L571.7,1251.3L573.5,1251.6L575.9,1251.3L576.5,1251.1L577.1,1251.5L577.7,1251.3L578.3,1251.4L579.5,1251.3L581.3,1250.7L581.9,1251.0L583.1,1251.2L583.7,1250.9L586.1,1251.0L588.5,1250.8L589.1,1250.9L589.7,1250.7L590.3,1251.3L590.9,1251.2L591.5,1251.4L592.1,1250.7L593.3,1250.4L595.7,1250.8L596.9,1251.5L599.3,1251.0L600.5,1250.3L601.1,1250.7L604.1,1250.5L605.3,1250.4L606.5,1249.7L607.7,1249.9L608.3,1250.3L608.9,1250.2L609.5,1250.4L611.9,1249.5L613.1,1250.2L614.3,1250.2L614.9,1249.6L616.1,1249.4L617.9,1250.0L619.1,1249.8L619.7,1249.2L620.9,1249.0L622.7,1248.4L623.3,1248.7L625.1,1248.5L626.3,1248.0L626.9,1247.5L629.3,1246.9L629.9,1246.7L630.5,1246.2L631.7,1246.3L632.3,1246.6L634.7,1245.9L636.5,1244.4L637.1,1244.1L638.9,1244.1L640.1,1243.8L640.7,1243.8L641.3,1243.4L641.9,1242.7L642.5,1242.6L643.7,1241.8L644.3,1241.0L644.9,1241.2L645.5,1241.2L646.1,1241.4L646.7,1241.2L647.3,1241.6L647.9,1241.4L649.1,1241.4L649.7,1241.9L650.9,1242.0L651.5,1241.8L652.7,1242.3L653.9,1242.4L654.5,1242.1L655.1,1242.2L655.7,1242.1L656.9,1242.6L657.5,1243.3L658.1,1243.5L658.7,1243.3L659.3,1243.0L660.5,1243.2L662.3,1243.7L664.7,1242.8L665.3,1242.9L666.5,1243.8L667.1,1243.4L667.7,1242.5L668.3,1242.1L668.9,1242.2L670.1,1242.9L670.7,1242.6L671.3,1242.7L671.9,1242.4L672.5,1242.5L673.1,1242.1L674.3,1241.9L674.9,1242.0L676.7,1241.3L678.5,1241.8L680.3,1241.4L680.9,1240.9L682.1,1240.9L683.3,1241.2L683.9,1240.7L684.5,1240.7L685.1,1240.5L685.7,1240.8L686.3,1240.8L686.9,1241.1L687.5,1240.4L688.7,1239.6L689.3,1240.1L690.5,1240.1L691.7,1239.5L692.3,1239.4L692.9,1239.9L693.5,1239.9L694.1,1240.5L695.3,1240.3L695.9,1239.9L697.1,1239.5L697.7,1239.0L698.9,1238.9L699.5,1239.1L701.9,1238.1L703.1,1237.8L707.3,1235.8L712.7,1232.6L715.7,1230.4L718.7,1227.0L720.5,1224.5L722.3,1220.9L725.3,1212.7L727.1,1205.2L736.1,1153.8L737.3,1149.0L737.9,1147.4L738.5,1146.6L739.1,1147.1L740.3,1151.2L741.5,1157.5L743.9,1174.6L746.9,1192.5L749.9,1207.0L751.7,1213.6L754.1,1220.4L755.9,1224.2L757.7,1226.7L760.1,1229.3L761.9,1230.4L764.3,1231.9L768.5,1232.3L770.3,1232.1L771.5,1232.4L773.9,1231.8L779.3,1229.0L782.9,1226.7L788.9,1221.2L792.5,1217.0L795.5,1212.2L797.3,1208.8L800.3,1200.7L802.1,1194.3L803.9,1185.3L805.1,1176.4L806.3,1161.1L806.9,1150.0L807.5,1132.2L808.7,1066.5L811.1,942.9L813.5,835.5L817.7,535.0L818.9,432.1L819.5,417.2L820.1,419.3L820.7,423.2L821.3,429.3L821.9,441.0L822.5,465.8L824.3,639.9L826.1,760.9L828.5,879.7L832.1,1022.2L833.3,1069.8L834.5,1099.9L836.9,1144.6L838.7,1170.8L839.9,1183.2L841.7,1196.6L843.5,1206.3L845.9,1215.6L847.7,1220.9L850.1,1225.9L851.9,1228.4L853.1,1230.4L856.7,1234.0L859.7,1236.3L860.3,1237.0L862.1,1237.8L862.7,1238.5L863.9,1238.7L865.1,1239.6L865.7,1239.7L866.3,1240.3L867.5,1240.7L868.7,1240.2L869.9,1240.8L870.5,1241.9L871.7,1242.6L872.3,1242.5L873.5,1242.7L874.7,1243.1L875.3,1243.6L875.9,1243.7L877.7,1243.2L879.5,1243.9L880.1,1243.9L881.9,1244.8L883.1,1244.2L884.9,1244.3L886.7,1245.2L887.9,1245.2L889.1,1245.8L889.7,1245.8L891.5,1246.1L892.7,1245.7L894.5,1246.0L895.7,1245.8L896.3,1246.1L898.1,1246.1L899.3,1246.7L901.1,1246.2L902.3,1246.3L903.5,1245.7L904.1,1245.7L904.7,1246.3L905.3,1246.6L905.9,1246.6L907.1,1246.2L908.9,1246.6L909.5,1246.3L911.3,1246.5L912.5,1246.4L913.7,1246.5L914.3,1246.8L914.9,1246.9L915.5,1246.7L916.1,1246.2L917.3,1245.8L917.9,1246.2L918.5,1245.7L919.7,1245.6L920.9,1245.9L922.7,1245.4L923.3,1245.1L925.7,1245.3L926.3,1244.8L926.9,1245.0L927.5,1244.7L928.1,1244.8L928.7,1244.4L929.9,1244.4L931.1,1244.6L931.7,1244.9L933.5,1245.1L935.3,1245.9L935.9,1246.1L937.1,1246.9L938.3,1247.4L938.9,1247.4L939.5,1247.7L941.3,1247.9L941.9,1247.8L942.5,1248.3L943.7,1248.4L944.3,1247.9L944.9,1247.8L947.3,1248.7L947.9,1248.7L948.5,1248.4L949.7,1248.5L951.5,1247.7L953.9,1248.4L955.1,1247.5L955.7,1247.3L956.9,1247.6L958.1,1247.2L958.7,1247.2L959.3,1247.6L960.5,1247.8L961.7,1247.7L962.3,1248.0L963.5,1247.8L964.1,1247.4L964.7,1247.7L965.3,1247.8L965.9,1248.1L967.1,1247.8L967.7,1247.4L968.3,1247.4L968.9,1247.6L969.5,1247.4L970.1,1247.6L970.7,1247.2L971.3,1247.8L971.9,1247.3L973.7,1247.6L974.3,1247.9L974.9,1247.8L975.5,1247.9L976.1,1247.5L977.3,1247.3L978.5,1247.9L979.1,1248.0L980.9,1247.2L982.1,1247.7L983.3,1247.7L984.5,1248.2L987.5,1248.4L988.1,1248.7L988.7,1248.7L989.3,1248.9L989.9,1248.6L990.5,1249.0L992.9,1249.0L994.1,1249.4L994.7,1249.2L995.9,1249.4L996.5,1249.9L997.1,1250.0L997.7,1249.5L998.9,1249.7L999.5,1250.3L1001.3,1249.8" stroke="#ff0000" stroke-dasharray="17.2 8 4 8.1" stroke-dashoffset="14.57"/>
<path d="M1001.3,1249.8L1001.9,1250.0L1002.5,1249.8L1003.7,1249.9L1004.9,1250.6L1007.3,1250.7L1007.9,1251.1L1009.1,1251.0L1009.7,1250.8L1010.9,1250.9L1011.5,1251.0L1012.1,1250.9L1012.7,1251.1L1015.7,1250.9L1016.9,1250.9L1017.5,1250.6L1019.3,1251.3L1019.9,1251.0L1020.5,1251.3L1021.7,1251.1L1022.9,1250.8L1023.5,1251.2L1024.1,1251.1L1024.7,1251.4L1026.5,1251.4L1027.1,1251.8L1028.3,1251.7L1028.9,1251.3L1029.5,1251.5L1030.7,1250.8L1032.5,1251.3L1034.3,1251.8L1034.9,1251.3L1035.5,1251.1L1036.1,1251.2L1037.9,1250.3L1039.1,1251.1L1039.7,1251.4L1040.9,1251.2L1041.5,1251.3L1042.1,1251.9L1043.3,1252.0L1043.9,1251.3L1044.5,1251.4L1045.1,1251.2L1045.7,1251.3L1046.9,1250.8L1048.7,1250.5L1050.5,1251.5L1052.9,1250.5L1054.7,1250.7L1055.9,1250.9L1057.1,1250.8L1057.7,1251.0L1058.3,1251.4L1058.9,1251.6L1060.1,1251.0L1060.7,1250.9L1062.5,1251.3L1063.7,1250.9L1064.3,1250.4L1066.1,1250.8L1067.3,1250.4L1067.9,1250.5L1068.5,1250.7L1069.1,1250.7L1069.7,1251.2L1070.3,1250.9L1070.9,1250.8L1071.5,1250.4L1072.1,1250.8L1073.3,1250.9L1073.9,1250.1L1074.5,1250.2L1075.1,1249.9L1075.7,1250.3L1077.5,1250.7L1078.1,1250.4L1079.3,1250.2L1080.5,1250.5L1081.1,1250.4L1082.3,1249.7L1083.5,1249.8L1084.7,1250.2L1085.3,1250.4L1087.1,1249.8L1087.7,1249.9L1088.3,1249.4L1088.9,1249.2L1089.5,1249.2L1090.1,1249.6L1090.7,1249.7L1091.3,1249.4L1093.1,1249.6L1093.7,1249.3L1094.9,1249.4L1096.1,1248.9L1097.9,1249.1L1098.5,1248.5L1099.7,1248.1L1100.3,1248.3L1101.5,1247.8L1102.7,1248.2L1103.3,1248.0L1104.5,1246.8L1106.9,1246.1L1108.1,1245.9L1109.3,1244.3L1110.5,1243.6L1111.1,1243.5L1111.7,1242.8L1112.3,1242.7L1114.1,1240.4L1115.3,1239.8L1117.1,1237.8L1117.7,1237.4L1118.3,1236.7L1119.5,1235.8L1120.1,1235.1L1120.7,1233.9L1121.9,1232.6L1122.5,1232.4L1124.9,1230.6L1125.5,1230.4L1126.1,1229.8L1127.3,1227.8L1128.5,1226.5L1129.1,1226.4L1130.3,1225.7L1131.5,1224.3L1132.7,1223.6L1133.3,1223.4L1133.9,1223.4L1134.5,1223.2L1135.1,1223.7L1135.7,1223.8L1136.3,1224.2L1137.5,1224.2L1138.7,1223.7L1139.3,1224.2L1139.9,1224.2L1140.5,1224.7L1141.1,1224.6L1142.9,1226.5L1143.5,1226.8L1144.1,1226.9L1144.7,1227.4L1145.3,1227.5L1147.1,1228.7L1147.7,1228.9L1149.5,1230.9L1151.9,1231.2L1153.7,1231.8L1154.3,1231.7L1155.5,1232.0L1156.1,1231.9L1156.7,1232.1L1157.3,1231.8L1157.9,1232.0L1158.5,1231.3L1159.1,1231.6L1159.7,1231.4L1160.3,1231.6L1161.5,1231.0L1163.3,1230.7L1164.5,1229.9L1165.7,1229.9L1166.3,1230.0L1168.1,1228.7L1168.7,1228.2L1169.3,1228.0L1171.7,1225.7L1172.3,1225.6L1174.7,1223.8L1176.5,1221.2L1177.1,1220.7L1177.7,1220.6L1178.9,1219.4L1181.3,1214.9L1183.1,1211.6L1185.5,1205.3L1187.9,1197.5L1190.3,1186.9L1192.7,1172.9L1195.7,1148.5L1198.7,1115.7L1201.7,1078.3L1204.7,1049.3L1207.7,1010.2L1210.1,982.4L1211.9,954.7L1213.7,916.3L1215.5,874.7L1217.3,844.1L1218.5,832.7L1219.1,831.7L1219.7,834.8L1221.5,849.5L1223.3,870.8L1225.1,906.6L1228.7,1005.2L1234.1,1111.4L1235.9,1138.1L1238.3,1166.1L1240.1,1181.8L1242.5,1196.8L1244.3,1204.7L1246.7,1212.6L1249.1,1218.3L1250.9,1221.8L1253.9,1226.6L1255.7,1229.0L1257.5,1230.4L1259.3,1232.4L1261.7,1234.1L1262.9,1235.5L1263.5,1235.9L1265.3,1236.3L1265.9,1236.7L1266.5,1236.8L1267.1,1237.4L1267.7,1237.6L1269.5,1239.0L1270.7,1239.1L1273.7,1240.3L1274.3,1240.7L1275.5,1241.1L1276.7,1241.0L1278.5,1241.9L1280.9,1241.8L1281.5,1241.4L1282.1,1241.6L1282.7,1241.5L1283.9,1242.0L1284.5,1241.8L1285.1,1242.2L1285.7,1241.9L1286.3,1242.1L1286.9,1241.8L1287.5,1242.3L1288.1,1242.2L1288.7,1242.4L1289.3,1242.2L1291.1,1241.8L1292.9,1242.2L1294.7,1241.7L1295.3,1241.7L1295.9,1241.3L1298.3,1241.3L1299.5,1241.8L1300.1,1242.2L1301.9,1242.3L1302.5,1242.1L1303.1,1242.2L1303.7,1241.8L1304.9,1241.7L1305.5,1242.2L1306.1,1242.3L1306.7,1242.1L1308.5,1242.3L1309.7,1242.6L1310.3,1243.0L1311.5,1242.5L1312.1,1242.7L1312.7,1243.4L1313.9,1243.7L1314.5,1243.7L1315.1,1244.4L1316.3,1244.9L1316.9,1245.0L1318.7,1246.5L1319.3,1246.2L1320.5,1246.8L1321.1,1247.6L1322.3,1248.5L1325.3,1249.1L1325.9,1248.9L1327.1,1249.1L1327.7,1249.8L1328.9,1250.5L1329.5,1250.4L1330.1,1251.1L1330.7,1251.0L1331.3,1251.7L1331.9,1251.6L1332.5,1251.8L1333.7,1251.2L1334.3,1251.4L1334.9,1251.5L1335.5,1252.0L1336.1,1252.0L1337.3,1251.2L1337.9,1251.2L1338.5,1251.5L1339.1,1252.1L1339.7,1252.1L1340.3,1252.4L1340.9,1252.2L1341.5,1252.7L1342.7,1252.7L1343.3,1252.3L1345.7,1252.7L1346.3,1252.4L1347.5,1252.3L1349.3,1252.8L1349.9,1252.7L1350.5,1252.4L1351.7,1252.2L1352.3,1252.3L1352.9,1252.2L1354.7,1252.8L1355.3,1252.8L1355.9,1252.4L1357.1,1252.2L1357.7,1252.7L1359.5,1253.0L1360.7,1252.3L1361.3,1252.3L1361.9,1252.9L1363.7,1252.8L1364.3,1252.6L1365.5,1252.1L1366.7,1252.5L1367.9,1252.4L1369.7,1250.9L1370.9,1251.5L1371.5,1251.3L1372.1,1250.8L1372.7,1249.9L1373.3,1250.1L1373.9,1249.8L1374.5,1250.2L1375.7,1249.8L1376.9,1249.1L1377.5,1249.3L1378.1,1249.2L1379.3,1248.3L1379.9,1248.4L1381.7,1247.6L1382.3,1247.6L1384.1,1246.8L1384.7,1247.0L1385.9,1246.6L1386.5,1246.0L1387.7,1245.8L1388.3,1246.0L1389.5,1245.6L1390.7,1245.4L1391.3,1245.1L1392.5,1244.8L1393.1,1244.8L1394.9,1244.4L1395.5,1244.1L1396.1,1244.2L1396.7,1243.9L1397.3,1244.2L1397.9,1243.7L1398.5,1243.7L1399.1,1243.4L1400.3,1243.8L1400.9,1243.7L1401.5,1243.3L1402.7,1243.6L1403.3,1243.8L1404.5,1243.6L1405.7,1243.7L1406.3,1244.0L1406.9,1243.9L1407.5,1243.6L1408.7,1243.6L1409.3,1243.8L1409.9,1243.1L1410.5,1243.0L1411.1,1243.1L1411.7,1243.5L1413.5,1243.9L1414.7,1243.8L1415.9,1244.0L1417.1,1243.6L1418.3,1244.5L1419.5,1244.8L1420.1,1245.2L1420.7,1245.9L1421.9,1246.7L1423.1,1246.8L1423.7,1247.0L1424.3,1247.7L1425.5,1248.8L1426.1,1248.7L1427.9,1249.9L1428.5,1250.4L1429.1,1250.6L1430.3,1251.8L1432.1,1252.9L1432.7,1253.7L1433.3,1253.6L1433.9,1254.1L1434.5,1254.1L1435.1,1254.8L1435.7,1254.9L1436.9,1255.2L1437.5,1255.3L1438.7,1256.0L1439.9,1256.4L1440.5,1256.4L1441.1,1256.8L1441.7,1256.5L1442.3,1256.6L1442.9,1256.5L1443.5,1256.8L1445.9,1257.2L1447.7,1256.9L1449.5,1257.7L1450.7,1257.3L1451.9,1257.8L1453.7,1257.2L1454.3,1257.4L1455.5,1257.1L1458.5,1257.0L1460.3,1257.7L1462.1,1257.5L1462.7,1257.9L1464.5,1256.5L1465.7,1257.6L1466.9,1257.6L1467.5,1257.5L1468.7,1258.0L1469.3,1257.7L1469.9,1258.0L1470.5,1257.8L1471.1,1258.1L1472.3,1257.7L1474.1,1258.0L1474.7,1257.7L1475.3,1257.7L1475.9,1257.5L1478.3,1257.8L1479.5,1257.8L1480.1,1257.5L1481.3,1257.6L1481.9,1258.2L1482.5,1257.9L1483.1,1258.1L1483.7,1257.6L1486.1,1258.1L1488.5,1257.4L1489.1,1257.5L1490.3,1258.1L1490.9,1257.8L1492.1,1257.8L1492.7,1258.2L1494.5,1257.9L1495.1,1257.6L1496.9,1257.6L1498.1,1258.1L1499.3,1258.1L1499.9,1257.6L1501.1,1257.4L1502.3,1258.1L1502.9,1258.0L1503.5,1258.2L1504.1,1257.9L1504.7,1258.0L1505.3,1257.8L1508.3,1257.8L1508.9,1257.7L1509.5,1257.8L1510.1,1257.2L1510.7,1257.3L1511.3,1256.9L1511.9,1257.5L1512.5,1257.4L1513.1,1257.6L1514.3,1257.4L1514.9,1257.5L1515.5,1257.3L1516.7,1257.6L1517.9,1258.3L1519.7,1257.6L1520.3,1257.9L1521.5,1258.1L1523.3,1257.2L1524.5,1257.8L1525.1,1257.3L1526.9,1253.6L1527.5,1253.8L1528.7,1256.3L1530.5,1257.9L1532.3,1257.2L1532.9,1257.4L1533.5,1257.2L1534.1,1257.7L1534.7,1257.9L1535.3,1258.3L1535.9,1257.5L1537.1,1257.1L1537.7,1257.6L1538.3,1257.6L1538.9,1257.8L1540.7,1257.6L1541.3,1257.1L1541.9,1257.3L1542.5,1257.3L1543.1,1258.1L1543.7,1258.0L1544.9,1257.4L1545.5,1257.3L1546.1,1257.5L1546.7,1257.2L1547.9,1258.1L1549.1,1257.8L1549.7,1257.5L1551.5,1257.3L1552.7,1257.7L1553.3,1257.4L1553.9,1257.4L1554.5,1257.3L1555.1,1257.9L1557.5,1257.4L1561.1,1257.1L1562.3,1257.0L1564.1,1257.7L1564.7,1257.4L1565.9,1257.4L1566.5,1257.6L1567.7,1257.6L1568.3,1257.8L1570.1,1257.4L1573.1,1258.3L1574.9,1257.6L1575.5,1257.9L1576.7,1257.9L1577.3,1257.5L1578.5,1257.7L1579.1,1257.5L1579.7,1257.5L1580.3,1257.7L1580.9,1258.3L1582.7,1258.4L1583.9,1258.1L1585.1,1257.4L1585.7,1257.6L1586.9,1258.5L1588.1,1258.3L1588.7,1258.4" stroke="#ff0000" stroke-dasharray="17.2 8 4 8.1" stroke-dashoffset="10.85"/>
<path d="M1563.6,1256.5L1564.6,1251L1564.8,1239.5" stroke="#ff0000"/>
</g>
<g fill="none" stroke-width="3.7">
<line x1="1334.9" y1="78.0" x2="1491.0" y2="78.0" stroke="#008000" stroke-dasharray="14 15.7"/>
<line x1="1334.9" y1="162.9" x2="1491.0" y2="162.9" stroke="#0000ff" stroke-dasharray="6.6 7"/>
<line x1="1334.9" y1="248.0" x2="1491.0" y2="248.0" stroke="#ff0000" stroke-dasharray="17.2 8 4 8.1"/>
<line x1="1334.9" y1="332.9" x2="1491.0" y2="332.9" stroke="#000000"/>
</g>
<path d="M1375.4,1262.2V1265.4" stroke="#008000" stroke-width="3.3" fill="none"/>
<g>
<text transform="translate(148.86,1272.90) scale(1.0056,1.0000)" font-size="53.2" stroke-width="0.69">0.0</text>
<text transform="translate(149.78,1109.28) scale(1.0056,1.0000)" font-size="53.2" stroke-width="0.69">0.2</text>
<text transform="translate(147.66,945.66) scale(1.0056,1.0000)" font-size="53.2" stroke-width="0.69">0.4</text>
<text transform="translate(148.42,782.04) scale(1.0056,1.0000)" font-size="53.2" stroke-width="0.69">0.6</text>
<text transform="translate(148.86,618.42) scale(1.0056,1.0000)" font-size="53.2" stroke-width="0.69">0.8</text>
<text transform="translate(148.86,454.80) scale(1.0056,1.0000)" font-size="53.2" stroke-width="0.69">1.0</text>
<text transform="translate(149.78,291.18) scale(1.0056,1.0000)" font-size="53.2" stroke-width="0.69">1.2</text>
<text transform="translate(147.66,127.56) scale(1.0056,1.0000)" font-size="53.2" stroke-width="0.69">1.4</text>
<text transform="translate(242.42,1342.60) scale(1.0056,1.0000)" font-size="53.2" stroke-width="0.69">0</text>
<text transform="translate(394.68,1342.60) scale(1.0056,1.0000)" font-size="53.2" stroke-width="0.69">500</text>
<text transform="translate(560.05,1342.60) scale(1.0056,1.0000)" font-size="53.2" stroke-width="0.69">1000</text>
<text transform="translate(739.59,1342.60) scale(1.0056,1.0000)" font-size="53.2" stroke-width="0.69">1500</text>
<text transform="translate(920.30,1342.60) scale(1.0056,1.0000)" font-size="53.2" stroke-width="0.69">2000</text>
<text transform="translate(1099.84,1342.60) scale(1.0056,1.0000)" font-size="53.2" stroke-width="0.69">2500</text>
<text transform="translate(1279.28,1342.60) scale(1.0056,1.0000)" font-size="53.2" stroke-width="0.69">3000</text>
<text transform="translate(1458.82,1342.60) scale(1.0056,1.0000)" font-size="53.2" stroke-width="0.69">3500</text>
<text transform="translate(1639.12,1342.60) scale(1.0056,1.0000)" font-size="53.2" stroke-width="0.69">4000</text>
<text transform="translate(273.50,332.20) scale(1.0896,1.0000)" font-size="41.5" stroke-width="0.54">D band</text>
<text transform="translate(272.86,396.30) scale(1.0379,1.0000)" font-size="41.5" stroke-width="0.54">NC7000</text>
<text transform="translate(497.17,396.30) scale(1.0238,1.0000)" font-size="41.5" stroke-width="0.54">1342 cm</text>
<text transform="translate(645.42,379.80) scale(0.8788,1.0000)" font-size="30.0" stroke-width="0.39">-1</text>
<text transform="translate(272.88,459.80) scale(1.0223,1.0000)" font-size="41.5" stroke-width="0.54">NCg-7000-1</text>
<text transform="translate(506.98,459.80) scale(1.0195,1.0000)" font-size="41.5" stroke-width="0.54">1346 cm</text>
<text transform="translate(654.62,443.30) scale(0.8788,1.0000)" font-size="30.0" stroke-width="0.39">-1</text>
<text transform="translate(272.87,523.20) scale(1.0281,1.0000)" font-size="41.5" stroke-width="0.54">NCg-7000-2</text>
<text transform="translate(506.98,523.20) scale(1.0195,1.0000)" font-size="41.5" stroke-width="0.54">1348 cm</text>
<text transform="translate(654.62,506.70) scale(0.8788,1.0000)" font-size="30.0" stroke-width="0.39">-1</text>
<text transform="translate(272.86,586.60) scale(1.0365,1.0000)" font-size="41.5" stroke-width="0.54">NC3150</text>
<text transform="translate(506.98,586.60) scale(1.0195,1.0000)" font-size="41.5" stroke-width="0.54">1342 cm</text>
<text transform="translate(654.62,570.10) scale(0.8788,1.0000)" font-size="30.0" stroke-width="0.39">-1</text>
<text transform="translate(795.13,133.40) scale(1.0959,1.0000)" font-size="41.5" stroke-width="0.54">G band</text>
<text transform="translate(795.86,197.50) scale(1.0379,1.0000)" font-size="41.5" stroke-width="0.54">NC7000</text>
<text transform="translate(1020.17,197.50) scale(1.0238,1.0000)" font-size="41.5" stroke-width="0.54">1578 cm</text>
<text transform="translate(1168.42,181.00) scale(0.8788,1.0000)" font-size="30.0" stroke-width="0.39">-1</text>
<text transform="translate(795.88,261.00) scale(1.0223,1.0000)" font-size="41.5" stroke-width="0.54">NCg-7000-1</text>
<text transform="translate(1029.98,261.00) scale(1.0195,1.0000)" font-size="41.5" stroke-width="0.54">1572 cm</text>
<text transform="translate(1177.62,244.50) scale(0.8788,1.0000)" font-size="30.0" stroke-width="0.39">-1</text>
<text transform="translate(795.87,324.40) scale(1.0281,1.0000)" font-size="41.5" stroke-width="0.54">NCg-7000-2</text>
<text transform="translate(1029.98,324.40) scale(1.0195,1.0000)" font-size="41.5" stroke-width="0.54">1577 cm</text>
<text transform="translate(1177.62,307.90) scale(0.8788,1.0000)" font-size="30.0" stroke-width="0.39">-1</text>
<text transform="translate(795.86,387.80) scale(1.0365,1.0000)" font-size="41.5" stroke-width="0.54">NC3150</text>
<text transform="translate(1029.98,387.80) scale(1.0195,1.0000)" font-size="41.5" stroke-width="0.54">1577 cm</text>
<text transform="translate(1177.62,371.30) scale(0.8788,1.0000)" font-size="30.0" stroke-width="0.39">-1</text>
<text transform="translate(1281.92,732.20) scale(1.0880,1.0000)" font-size="41.5" stroke-width="0.54">2D band</text>
<text transform="translate(1282.66,796.30) scale(1.0379,1.0000)" font-size="41.5" stroke-width="0.54">NC7000</text>
<text transform="translate(1507.34,796.30) scale(1.0212,1.0000)" font-size="41.5" stroke-width="0.54">2677 cm</text>
<text transform="translate(1655.22,779.80) scale(0.8788,1.0000)" font-size="30.0" stroke-width="0.39">-1</text>
<text transform="translate(1282.68,859.80) scale(1.0223,1.0000)" font-size="41.5" stroke-width="0.54">NCg-7000-1</text>
<text transform="translate(1516.94,859.80) scale(1.0183,1.0000)" font-size="41.5" stroke-width="0.54">2684 cm</text>
<text transform="translate(1664.42,843.30) scale(0.8788,1.0000)" font-size="30.0" stroke-width="0.39">-1</text>
<text transform="translate(1282.67,923.20) scale(1.0281,1.0000)" font-size="41.5" stroke-width="0.54">NCg-7000-2</text>
<text transform="translate(1516.94,923.20) scale(1.0183,1.0000)" font-size="41.5" stroke-width="0.54">2690 cm</text>
<text transform="translate(1664.42,906.70) scale(0.8788,1.0000)" font-size="30.0" stroke-width="0.39">-1</text>
<text transform="translate(1282.66,986.60) scale(1.0365,1.0000)" font-size="41.5" stroke-width="0.54">NC3150</text>
<text transform="translate(1516.94,986.60) scale(1.0183,1.0000)" font-size="41.5" stroke-width="0.54">2671 cm</text>
<text transform="translate(1664.42,970.10) scale(0.8788,1.0000)" font-size="30.0" stroke-width="0.39">-1</text>
<text transform="translate(1503.14,100.20) scale(1.0125,1.0000)" font-size="60.2" stroke-width="0.78">NC3150</text>
<text transform="translate(1503.14,185.10) scale(1.0125,1.0000)" font-size="60.2" stroke-width="0.78">NC7000</text>
<text transform="translate(1503.16,270.00) scale(1.0004,1.0000)" font-size="60.2" stroke-width="0.78">NCg-7000-1</text>
<text transform="translate(1503.15,354.90) scale(1.0095,1.0000)" font-size="60.2" stroke-width="0.78">NCg-7000-2</text>
<text transform="translate(632.05,1474.00) scale(1.0997,1.0000)" font-size="64.6" stroke-width="0.84">Raman</text>
<text transform="translate(851.73,1474.00) scale(1.1162,1.0000)" font-size="64.6" stroke-width="0.84">wavenumber</text>
<text transform="translate(1241.43,1477.75) scale(0.9733,1.0810)" font-size="64.6" stroke-width="0.84">[</text>
<text transform="translate(1261.83,1474.20) scale(1.0842,1.0000)" font-size="64.6" stroke-width="0.84">cm</text>
<text transform="translate(1346.59,1448.00) scale(0.9323,1.0000)" font-size="46.5" stroke-width="0.60">-1</text>
<text transform="translate(1384.18,1477.75) scale(0.9525,1.0810)" font-size="64.6" stroke-width="0.84">]</text>
<text transform="translate(72.80,921.30) rotate(-90) translate(-2.01,0.00) scale(1.0784,1.0000)" font-size="64.6" stroke-width="0.84">Relative</text>
<text transform="translate(72.80,921.30) rotate(-90) translate(245.30,0.00) scale(1.1087,1.0000)" font-size="64.6" stroke-width="0.84">intensity</text>
<text transform="translate(72.80,921.30) rotate(-90) translate(509.73,3.75) scale(0.9316,1.0810)" font-size="64.6" stroke-width="0.84">[</text>
<text transform="translate(72.80,921.30) rotate(-90) translate(531.15,0.00) scale(0.9738,1.0000)" font-size="64.6" stroke-width="0.84">%</text>
<text transform="translate(72.80,921.30) rotate(-90) translate(584.43,3.75) scale(0.9316,1.0810)" font-size="64.6" stroke-width="0.84">]</text>
</g>
</svg>
</body></html>
